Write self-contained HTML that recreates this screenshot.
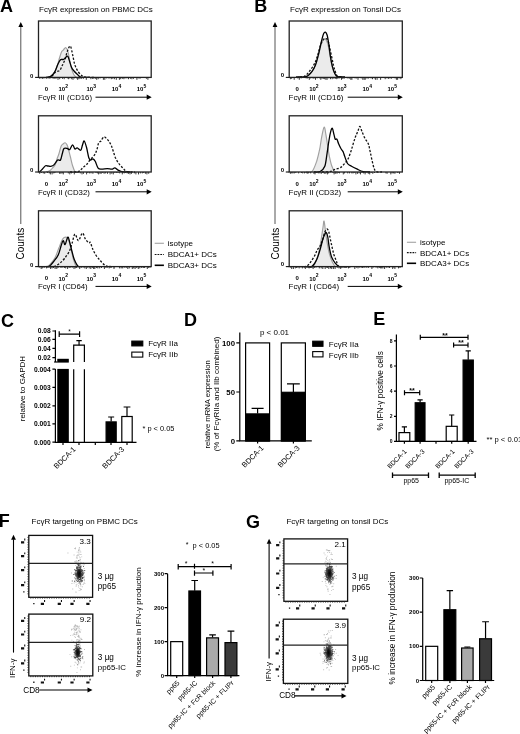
<!DOCTYPE html>
<html><head><meta charset="utf-8"><style>
html,body{margin:0;padding:0;background:#fff;}
body{width:520px;height:734px;overflow:hidden;}
svg{display:block;font-family:"Liberation Sans", sans-serif;filter:grayscale(1);}
</style></head><body>
<svg width="520" height="734" viewBox="0 0 520 734" fill="#000">
<defs><radialGradient id="core"><stop offset="0" stop-color="#000" stop-opacity="0.95"/><stop offset="0.6" stop-color="#000" stop-opacity="0.6"/><stop offset="1" stop-color="#000" stop-opacity="0"/></radialGradient></defs>
<text x="0" y="12.4" font-size="18" font-weight="bold" text-anchor="start" >A</text>
<text x="254.2" y="12.4" font-size="18" font-weight="bold" text-anchor="start" >B</text>
<text x="0.9" y="326.9" font-size="18" font-weight="bold" text-anchor="start" >C</text>
<text x="184.1" y="326.3" font-size="18" font-weight="bold" text-anchor="start" >D</text>
<text x="373.3" y="325.3" font-size="18" font-weight="bold" text-anchor="start" >E</text>
<text x="-1.3" y="527.3" font-size="18" font-weight="bold" text-anchor="start" >F</text>
<text x="246.1" y="527.6" font-size="18" font-weight="bold" text-anchor="start" >G</text>
<text x="39" y="12" font-size="8" font-weight="normal" text-anchor="start" >Fc&#947;R expression on PBMC DCs</text>
<text x="290" y="12" font-size="8" font-weight="normal" text-anchor="start" >Fc&#947;R expression on Tonsil DCs</text>
<text x="31.5" y="524.2" font-size="8" font-weight="normal" text-anchor="start" >Fc&#947;R targeting on PBMC DCs</text>
<text x="286.4" y="524.4" font-size="8" font-weight="normal" text-anchor="start" >Fc&#947;R targeting on tonsil DCs</text>
<path d="M46.0 77.4 C46.7 77.2 48.8 77.1 50.0 76.5 C51.2 75.9 52.1 75.0 53.0 74.0 C53.9 73.0 54.8 72.0 55.5 70.5 C56.2 69.0 56.8 67.1 57.5 65.0 C58.2 62.9 58.8 60.2 59.5 58.0 C60.2 55.8 60.9 53.3 61.5 52.0 C62.1 50.7 62.5 51.0 63.0 50.4 C63.5 49.8 64.0 49.0 64.5 48.5 C65.0 48.0 65.3 47.6 65.7 47.7 C66.1 47.8 66.5 48.0 67.0 49.0 C67.5 50.0 68.0 51.8 68.5 54.0 C69.0 56.2 69.4 59.3 70.0 62.0 C70.6 64.7 71.3 67.8 72.0 70.0 C72.7 72.2 73.2 73.8 74.0 75.0 C74.8 76.2 76.1 77.0 76.5 77.4 L76.5 77.4 L46 77.4 Z" fill="#ebebeb" stroke="none"/>
<path d="M46.0 77.4 C46.7 77.2 48.8 77.1 50.0 76.5 C51.2 75.9 52.1 75.0 53.0 74.0 C53.9 73.0 54.8 72.0 55.5 70.5 C56.2 69.0 56.8 67.1 57.5 65.0 C58.2 62.9 58.8 60.2 59.5 58.0 C60.2 55.8 60.9 53.3 61.5 52.0 C62.1 50.7 62.5 51.0 63.0 50.4 C63.5 49.8 64.0 49.0 64.5 48.5 C65.0 48.0 65.3 47.6 65.7 47.7 C66.1 47.8 66.5 48.0 67.0 49.0 C67.5 50.0 68.0 51.8 68.5 54.0 C69.0 56.2 69.4 59.3 70.0 62.0 C70.6 64.7 71.3 67.8 72.0 70.0 C72.7 72.2 73.2 73.8 74.0 75.0 C74.8 76.2 76.1 77.0 76.5 77.4" fill="none" stroke="#a0a0a0" stroke-width="1.15"/>
<path d="M48.0 77.4 C48.7 77.2 51.0 76.7 52.0 76.0 C53.0 75.3 53.4 73.8 54.2 73.0 C55.0 72.2 56.0 72.0 57.0 71.5 C58.0 71.0 59.1 71.3 60.0 70.2 C60.9 69.1 61.6 66.8 62.5 65.0 C63.4 63.2 64.3 61.5 65.1 59.2 C65.9 56.9 66.5 53.4 67.4 51.2 C68.3 49.0 69.4 45.4 70.3 46.0 C71.2 46.6 71.8 51.4 72.6 54.6 C73.4 57.8 73.9 62.1 74.9 65.0 C75.9 67.9 77.2 70.2 78.4 72.0 C79.7 73.8 81.1 75.1 82.4 76.0 C83.8 76.9 84.4 77.1 86.5 77.3 C88.6 77.5 93.6 77.4 95.0 77.4" fill="none" stroke="#111" stroke-width="1.3" stroke-dasharray="2.2 1.6"/>
<path d="M46.0 77.4 C46.7 77.3 48.8 77.3 50.0 76.8 C51.2 76.3 52.1 75.5 53.0 74.5 C53.9 73.5 54.5 72.5 55.3 70.8 C56.1 69.0 57.1 65.8 58.0 64.0 C58.9 62.2 59.8 60.5 60.5 59.8 C61.2 59.0 61.4 59.6 62.0 59.5 C62.6 59.4 63.2 59.7 64.0 59.2 C64.8 58.7 66.1 56.7 66.8 56.3 C67.5 55.9 67.5 55.9 68.0 56.7 C68.5 57.5 68.9 59.2 69.5 61.0 C70.1 62.8 70.8 65.6 71.5 67.3 C72.2 69.0 73.0 69.8 74.0 71.0 C75.0 72.2 76.1 73.2 77.2 74.2 C78.3 75.2 78.6 76.6 80.7 77.1 C82.8 77.6 88.5 77.4 90.0 77.4" fill="none" stroke="#000" stroke-width="1.3"/>
<rect x="38.5" y="21" width="112.69999999999999" height="56.400000000000006" fill="none" stroke="#222" stroke-width="1.3"/>
<path d="M39.7 77.4v1.4 M41.1 77.4v1.0 M42.5 77.4v1.4 M43.6 77.4v1.0 M44.9 77.4v1.0 M46.7 77.4v1.4 M48.3 77.4v1.0 M49.9 77.4v1.4 M52.3 77.4v1.0 M53.9 77.4v1.4 M55.1 77.4v1.4 M56.5 77.4v1.0 M58.0 77.4v2.4 M59.7 77.4v1.8 M62.5 77.4v1.4 M64.2 77.4v1.8 M67.4 77.4v1.0 M68.6 77.4v1.8 M69.8 77.4v1.0 M71.7 77.4v1.8 M73.0 77.4v2.4 M74.6 77.4v1.0 M76.5 77.4v1.0 M77.6 77.4v2.4 M78.9 77.4v1.8 M80.1 77.4v1.4 M81.6 77.4v1.4 M83.4 77.4v1.4 M86.3 77.4v2.4 M90.9 77.4v1.8 M92.5 77.4v1.4 M93.8 77.4v1.4 M95.4 77.4v1.4 M96.7 77.4v2.4 M98.2 77.4v1.8 M100.1 77.4v1.0 M103.4 77.4v2.4 M104.8 77.4v2.4 M106.4 77.4v1.0 M108.3 77.4v1.0 M109.7 77.4v1.0 M111.3 77.4v1.8 M112.8 77.4v1.4 M114.4 77.4v1.8 M116.3 77.4v2.4 M119.4 77.4v2.4 M120.7 77.4v1.8 M122.4 77.4v1.4 M123.9 77.4v1.8 M125.2 77.4v1.0 M126.9 77.4v1.0 M128.5 77.4v1.8 M130.4 77.4v1.4 M131.9 77.4v1.8 M133.5 77.4v1.4 M136.9 77.4v2.4 M138.3 77.4v1.0 M140.0 77.4v1.4 M146.4 77.4v1.4 M147.9 77.4v2.4" stroke="#222" stroke-width="0.9"/>
<text x="30.0" y="77.80000000000001" font-size="6" font-weight="bold" text-anchor="start" >0</text>
<path d="M35.1 77.4H38.5" stroke="#111" stroke-width="1.1" fill="none" />
<text x="46.5" y="91.2" font-size="6" font-weight="bold" text-anchor="middle" >0</text>
<text x="63.2" y="91.4" font-size="6" font-weight="bold" text-anchor="middle" >10<tspan font-size="5" dy="-3.4">2</tspan></text>
<text x="91.2" y="91.4" font-size="6" font-weight="bold" text-anchor="middle" >10<tspan font-size="5" dy="-3.4">3</tspan></text>
<text x="116.5" y="91.4" font-size="6" font-weight="bold" text-anchor="middle" >10<tspan font-size="5" dy="-3.4">4</tspan></text>
<text x="141.5" y="91.4" font-size="6" font-weight="bold" text-anchor="middle" >10<tspan font-size="5" dy="-3.4">5</tspan></text>
<text x="37.9" y="100.2" font-size="7.8" font-weight="normal" text-anchor="start" >Fc&#947;R III (CD16)</text>
<path d="M95.5 97.2H148.2" stroke="#000" stroke-width="1"/>
<path d="M146.7 94.60000000000001L151.7 97.2L146.7 99.80000000000001Z" fill="#000"/>
<path d="M46.0 172.0 C46.7 171.8 48.8 171.2 50.0 170.5 C51.2 169.8 52.1 168.5 53.0 167.5 C53.9 166.5 54.6 166.0 55.3 164.6 C56.0 163.2 56.4 160.7 57.0 159.0 C57.6 157.3 58.1 156.3 58.8 154.2 C59.5 152.1 60.4 147.9 61.1 146.2 C61.8 144.5 62.3 144.6 63.0 144.0 C63.7 143.4 64.5 142.7 65.1 142.7 C65.7 142.7 66.0 143.2 66.5 144.0 C67.0 144.8 67.4 145.2 68.0 147.3 C68.6 149.4 69.5 153.4 70.3 156.5 C71.1 159.6 71.8 163.3 72.6 165.8 C73.4 168.3 74.2 170.5 74.9 171.5 C75.6 172.5 76.7 171.9 77.0 172.0 L77 172 L46 172 Z" fill="#ebebeb" stroke="none"/>
<path d="M46.0 172.0 C46.7 171.8 48.8 171.2 50.0 170.5 C51.2 169.8 52.1 168.5 53.0 167.5 C53.9 166.5 54.6 166.0 55.3 164.6 C56.0 163.2 56.4 160.7 57.0 159.0 C57.6 157.3 58.1 156.3 58.8 154.2 C59.5 152.1 60.4 147.9 61.1 146.2 C61.8 144.5 62.3 144.6 63.0 144.0 C63.7 143.4 64.5 142.7 65.1 142.7 C65.7 142.7 66.0 143.2 66.5 144.0 C67.0 144.8 67.4 145.2 68.0 147.3 C68.6 149.4 69.5 153.4 70.3 156.5 C71.1 159.6 71.8 163.3 72.6 165.8 C73.4 168.3 74.2 170.5 74.9 171.5 C75.6 172.5 76.7 171.9 77.0 172.0" fill="none" stroke="#a0a0a0" stroke-width="1.15"/>
<path d="M70.0 172.0 C71.4 171.9 76.3 172.2 78.4 171.5 C80.5 170.8 81.2 169.2 82.5 168.0 C83.8 166.8 85.2 165.9 86.5 164.6 C87.8 163.3 88.7 161.6 90.0 160.0 C91.3 158.4 93.4 156.5 94.6 154.8 C95.8 153.1 96.2 151.6 96.9 149.6 C97.6 147.6 98.0 144.1 98.7 142.7 C99.4 141.3 100.2 142.0 101.0 141.0 C101.8 140.0 102.8 137.3 103.8 136.9 C104.8 136.5 105.8 137.9 106.7 138.7 C107.6 139.5 108.2 140.3 109.0 141.5 C109.8 142.7 110.6 144.0 111.3 145.6 C112.0 147.2 112.4 148.8 113.1 150.8 C113.8 152.8 114.5 155.6 115.4 157.7 C116.4 159.8 117.5 161.8 118.8 163.5 C120.0 165.2 121.6 166.8 122.9 168.1 C124.2 169.4 124.9 170.8 126.9 171.5 C128.9 172.2 133.7 171.9 135.0 172.0" fill="none" stroke="#111" stroke-width="1.3" stroke-dasharray="2.2 1.6"/>
<path d="M39.5 172.0 C40.0 171.5 41.5 170.0 42.5 169.0 C43.5 168.0 44.6 166.3 45.5 165.8 C46.4 165.3 47.1 165.9 48.0 166.0 C48.9 166.1 49.7 166.5 50.7 166.3 C51.7 166.1 53.1 165.7 54.2 164.6 C55.4 163.5 56.6 160.8 57.6 160.0 C58.6 159.2 59.7 161.0 60.5 160.0 C61.3 159.0 61.6 155.9 62.2 154.0 C62.8 152.1 63.1 149.4 64.0 148.5 C64.9 147.6 66.5 148.3 67.4 148.5 C68.4 148.7 68.8 150.2 69.7 149.6 C70.6 149.0 71.7 144.9 72.6 144.8 C73.5 144.7 74.1 148.5 74.9 149.0 C75.7 149.5 76.2 147.7 77.2 147.9 C78.2 148.1 79.8 150.7 80.7 150.2 C81.6 149.7 81.9 146.5 82.5 145.0 C83.1 143.5 83.5 140.6 84.2 141.0 C84.9 141.4 85.7 144.5 86.5 147.3 C87.3 150.1 88.1 155.6 88.8 157.7 C89.5 159.8 89.8 159.8 90.5 160.0 C91.2 160.2 92.1 158.6 92.9 158.8 C93.7 159.0 94.3 159.6 95.2 161.2 C96.1 162.8 97.0 166.8 98.1 168.1 C99.1 169.4 100.0 169.1 101.5 169.2 C103.0 169.3 105.6 168.7 107.3 168.7 C109.0 168.7 110.7 169.3 111.9 169.2 C113.2 169.0 113.8 167.7 114.8 167.8 C115.8 167.9 116.5 169.2 117.7 169.8 C118.9 170.4 119.7 171.2 121.7 171.6 C123.8 172.0 128.6 171.9 130.0 172.0" fill="none" stroke="#000" stroke-width="1.3"/>
<rect x="38.5" y="115.8" width="112.69999999999999" height="56.2" fill="none" stroke="#222" stroke-width="1.3"/>
<path d="M39.7 172.0v1.8 M41.4 172.0v1.0 M43.3 172.0v1.4 M44.7 172.0v1.8 M47.6 172.0v1.0 M49.3 172.0v1.4 M50.4 172.0v2.4 M52.1 172.0v2.4 M53.8 172.0v1.4 M54.9 172.0v1.0 M59.6 172.0v1.8 M60.9 172.0v1.8 M62.2 172.0v1.4 M63.3 172.0v2.4 M68.3 172.0v1.4 M69.8 172.0v2.4 M71.5 172.0v1.4 M72.8 172.0v1.0 M74.3 172.0v2.4 M76.0 172.0v1.0 M77.3 172.0v1.0 M78.8 172.0v1.0 M80.3 172.0v1.4 M82.0 172.0v2.4 M83.5 172.0v1.8 M86.6 172.0v2.4 M87.8 172.0v1.0 M89.4 172.0v1.4 M91.0 172.0v1.4 M92.9 172.0v1.8 M96.0 172.0v1.0 M97.4 172.0v1.4 M98.6 172.0v2.4 M100.0 172.0v1.8 M101.2 172.0v1.8 M102.7 172.0v1.0 M104.1 172.0v1.8 M105.6 172.0v1.4 M107.5 172.0v1.8 M110.1 172.0v2.4 M111.8 172.0v1.8 M113.3 172.0v2.4 M114.9 172.0v1.0 M116.7 172.0v1.0 M118.0 172.0v1.0 M119.7 172.0v1.4 M122.3 172.0v2.4 M124.2 172.0v1.4 M125.3 172.0v1.0 M127.2 172.0v1.4 M128.5 172.0v1.8 M130.0 172.0v2.4 M131.5 172.0v1.8 M134.3 172.0v1.4 M135.9 172.0v2.4 M138.5 172.0v2.4 M140.4 172.0v1.4 M142.3 172.0v1.4 M143.7 172.0v1.0 M145.4 172.0v1.8 M146.9 172.0v2.4 M148.7 172.0v1.8" stroke="#222" stroke-width="0.9"/>
<text x="30.0" y="172.4" font-size="6" font-weight="bold" text-anchor="start" >0</text>
<path d="M35.1 172H38.5" stroke="#111" stroke-width="1.1" fill="none" />
<text x="46.5" y="185.8" font-size="6" font-weight="bold" text-anchor="middle" >0</text>
<text x="63.2" y="186.0" font-size="6" font-weight="bold" text-anchor="middle" >10<tspan font-size="5" dy="-3.4">2</tspan></text>
<text x="91.2" y="186.0" font-size="6" font-weight="bold" text-anchor="middle" >10<tspan font-size="5" dy="-3.4">3</tspan></text>
<text x="116.5" y="186.0" font-size="6" font-weight="bold" text-anchor="middle" >10<tspan font-size="5" dy="-3.4">4</tspan></text>
<text x="141.5" y="186.0" font-size="6" font-weight="bold" text-anchor="middle" >10<tspan font-size="5" dy="-3.4">5</tspan></text>
<text x="37.9" y="194.8" font-size="7.8" font-weight="normal" text-anchor="start" >Fc&#947;R II (CD32)</text>
<path d="M95.5 191.8H148.2" stroke="#000" stroke-width="1"/>
<path d="M146.7 189.2L151.7 191.8L146.7 194.4Z" fill="#000"/>
<path d="M45.0 266.6 C45.6 266.5 47.2 266.8 48.4 266.0 C49.6 265.2 50.9 263.4 52.0 262.0 C53.1 260.6 54.1 259.8 55.3 257.3 C56.5 254.8 58.0 250.0 59.3 246.9 C60.5 243.8 61.7 240.4 62.8 238.8 C63.9 237.2 64.8 237.1 65.7 237.1 C66.6 237.1 67.1 237.0 68.0 238.8 C68.9 240.6 70.0 244.8 70.9 248.1 C71.8 251.4 72.3 255.5 73.2 258.5 C74.1 261.5 75.1 264.6 76.1 266.0 C77.1 267.4 78.5 266.5 79.0 266.6 L79 266.6 L45 266.6 Z" fill="#ebebeb" stroke="none"/>
<path d="M45.0 266.6 C45.6 266.5 47.2 266.8 48.4 266.0 C49.6 265.2 50.9 263.4 52.0 262.0 C53.1 260.6 54.1 259.8 55.3 257.3 C56.5 254.8 58.0 250.0 59.3 246.9 C60.5 243.8 61.7 240.4 62.8 238.8 C63.9 237.2 64.8 237.1 65.7 237.1 C66.6 237.1 67.1 237.0 68.0 238.8 C68.9 240.6 70.0 244.8 70.9 248.1 C71.8 251.4 72.3 255.5 73.2 258.5 C74.1 261.5 75.1 264.6 76.1 266.0 C77.1 267.4 78.5 266.5 79.0 266.6" fill="none" stroke="#a0a0a0" stroke-width="1.15"/>
<path d="M50.0 266.6 C50.9 266.5 53.6 266.6 55.3 266.0 C56.9 265.4 58.4 264.4 59.9 263.1 C61.4 261.9 63.0 260.4 64.5 258.5 C66.0 256.6 68.0 254.0 69.2 251.5 C70.5 249.0 71.0 246.4 72.0 243.5 C73.0 240.6 73.8 234.7 74.9 234.2 C76.0 233.7 77.2 240.8 78.4 240.6 C79.7 240.4 81.2 233.4 82.4 233.1 C83.6 232.8 84.2 237.2 85.3 238.8 C86.4 240.4 87.9 242.3 88.8 242.9 C89.7 243.5 89.9 241.4 90.5 242.3 C91.1 243.2 91.4 246.0 92.3 248.1 C93.2 250.2 94.4 252.9 95.8 255.0 C97.2 257.1 98.9 259.1 100.4 260.8 C101.9 262.5 103.7 264.5 105.0 265.4 C106.3 266.3 106.8 266.2 108.5 266.4 C110.2 266.6 113.9 266.6 115.0 266.6" fill="none" stroke="#111" stroke-width="1.3" stroke-dasharray="2.2 1.6"/>
<path d="M46.0 266.6 C46.6 266.5 48.1 267.0 49.5 266.0 C50.9 265.0 52.8 262.6 54.2 260.8 C55.7 259.0 57.1 257.5 58.2 255.0 C59.4 252.5 60.3 248.2 61.1 245.8 C61.9 243.4 62.5 240.8 63.2 240.6 C63.9 240.4 64.3 245.2 65.1 244.6 C65.9 244.0 67.0 237.5 67.8 237.1 C68.6 236.7 69.0 239.9 69.7 242.3 C70.4 244.7 71.2 248.6 72.0 251.5 C72.8 254.4 73.3 257.2 74.3 259.6 C75.3 262.0 76.5 264.8 77.8 266.0 C79.1 267.2 81.3 266.5 82.0 266.6" fill="none" stroke="#000" stroke-width="1.3"/>
<rect x="38.5" y="210.8" width="112.69999999999999" height="55.80000000000001" fill="none" stroke="#222" stroke-width="1.3"/>
<path d="M39.7 266.6v1.0 M41.2 266.6v2.4 M42.3 266.6v1.8 M44.1 266.6v1.4 M46.6 266.6v1.8 M48.0 266.6v1.4 M49.3 266.6v1.0 M50.6 266.6v2.4 M52.1 266.6v1.8 M53.5 266.6v1.4 M55.1 266.6v2.4 M56.8 266.6v2.4 M58.0 266.6v1.4 M61.0 266.6v1.4 M62.8 266.6v1.0 M64.6 266.6v1.4 M65.7 266.6v1.8 M67.6 266.6v2.4 M69.2 266.6v1.4 M70.6 266.6v1.0 M72.3 266.6v1.0 M74.0 266.6v2.4 M75.3 266.6v1.8 M76.6 266.6v1.4 M79.7 266.6v2.4 M81.6 266.6v1.0 M83.2 266.6v1.0 M84.8 266.6v1.8 M86.3 266.6v2.4 M87.5 266.6v1.0 M89.2 266.6v1.8 M90.8 266.6v2.4 M92.3 266.6v1.4 M93.6 266.6v2.4 M94.8 266.6v2.4 M96.6 266.6v1.4 M97.8 266.6v1.8 M99.7 266.6v1.8 M101.5 266.6v1.4 M104.4 266.6v2.4 M106.0 266.6v1.4 M107.5 266.6v1.0 M109.2 266.6v1.8 M111.0 266.6v1.4 M114.0 266.6v2.4 M119.6 266.6v1.8 M121.2 266.6v1.8 M122.7 266.6v1.8 M124.4 266.6v1.0 M126.2 266.6v1.4 M127.8 266.6v2.4 M129.3 266.6v1.8 M132.3 266.6v2.4 M133.7 266.6v1.8 M135.1 266.6v2.4 M136.7 266.6v1.4 M138.3 266.6v2.4 M139.8 266.6v1.8 M141.7 266.6v1.4 M143.3 266.6v1.4 M144.6 266.6v1.4 M147.3 266.6v2.4 M148.7 266.6v1.4 M150.1 266.6v1.0" stroke="#222" stroke-width="0.9"/>
<text x="30.0" y="267.0" font-size="6" font-weight="bold" text-anchor="start" >0</text>
<path d="M35.1 266.6H38.5" stroke="#111" stroke-width="1.1" fill="none" />
<text x="46.5" y="280.40000000000003" font-size="6" font-weight="bold" text-anchor="middle" >0</text>
<text x="63.2" y="280.6" font-size="6" font-weight="bold" text-anchor="middle" >10<tspan font-size="5" dy="-3.4">2</tspan></text>
<text x="91.2" y="280.6" font-size="6" font-weight="bold" text-anchor="middle" >10<tspan font-size="5" dy="-3.4">3</tspan></text>
<text x="116.5" y="280.6" font-size="6" font-weight="bold" text-anchor="middle" >10<tspan font-size="5" dy="-3.4">4</tspan></text>
<text x="141.5" y="280.6" font-size="6" font-weight="bold" text-anchor="middle" >10<tspan font-size="5" dy="-3.4">5</tspan></text>
<text x="37.9" y="289.40000000000003" font-size="7.8" font-weight="normal" text-anchor="start" >Fc&#947;R I (CD64)</text>
<path d="M95.5 286.40000000000003H148.2" stroke="#000" stroke-width="1"/>
<path d="M146.7 283.8L151.7 286.40000000000003L146.7 289.0Z" fill="#000"/>
<path d="M300.0 76.9 C301.0 76.8 304.2 77.2 306.0 76.5 C307.8 75.8 309.5 74.2 311.0 72.5 C312.5 70.8 313.8 68.7 315.0 66.0 C316.2 63.3 317.2 60.0 318.2 56.5 C319.2 53.0 320.1 47.8 321.0 45.0 C321.9 42.2 322.9 40.5 323.5 39.5 C324.1 38.5 324.3 38.8 324.8 39.0 C325.3 39.2 325.9 39.2 326.5 40.5 C327.1 41.8 327.9 44.2 328.5 47.0 C329.1 49.8 329.7 53.8 330.3 57.0 C330.9 60.2 331.3 63.3 332.0 66.0 C332.7 68.7 333.6 71.3 334.5 73.1 C335.4 74.9 336.2 76.0 337.5 76.6 C338.8 77.2 341.2 76.9 342.0 76.9 L342 77.4 L300 77.4 Z" fill="#ebebeb" stroke="none"/>
<path d="M300.0 76.9 C301.0 76.8 304.2 77.2 306.0 76.5 C307.8 75.8 309.5 74.2 311.0 72.5 C312.5 70.8 313.8 68.7 315.0 66.0 C316.2 63.3 317.2 60.0 318.2 56.5 C319.2 53.0 320.1 47.8 321.0 45.0 C321.9 42.2 322.9 40.5 323.5 39.5 C324.1 38.5 324.3 38.8 324.8 39.0 C325.3 39.2 325.9 39.2 326.5 40.5 C327.1 41.8 327.9 44.2 328.5 47.0 C329.1 49.8 329.7 53.8 330.3 57.0 C330.9 60.2 331.3 63.3 332.0 66.0 C332.7 68.7 333.6 71.3 334.5 73.1 C335.4 74.9 336.2 76.0 337.5 76.6 C338.8 77.2 341.2 76.9 342.0 76.9" fill="none" stroke="#a0a0a0" stroke-width="1.15"/>
<path d="M296.0 76.9 C297.3 76.8 301.7 77.5 304.0 76.5 C306.3 75.5 308.0 73.1 309.8 70.8 C311.6 68.5 313.7 65.4 315.0 62.7 C316.3 60.0 316.8 57.9 317.8 54.6 C318.9 51.3 320.1 45.7 321.3 43.0 C322.5 40.3 323.7 39.0 324.8 38.5 C325.9 38.0 326.9 38.9 327.7 40.2 C328.5 41.5 328.7 43.7 329.4 46.5 C330.1 49.3 331.0 53.8 331.7 56.9 C332.4 60.0 332.8 62.6 333.4 65.0 C334.0 67.4 334.5 69.4 335.2 71.3 C335.9 73.2 336.4 75.4 337.5 76.3 C338.6 77.2 341.2 76.8 342.0 76.9" fill="none" stroke="#111" stroke-width="1.3" stroke-dasharray="2.2 1.6"/>
<path d="M298.0 76.9 C299.4 76.9 303.9 77.5 306.3 76.6 C308.7 75.7 310.6 73.2 312.1 71.3 C313.6 69.4 314.4 67.8 315.5 65.0 C316.6 62.2 317.4 58.5 318.4 54.6 C319.4 50.8 320.4 45.4 321.3 41.9 C322.2 38.4 322.9 35.4 323.6 33.8 C324.3 32.2 324.7 31.9 325.3 32.1 C325.9 32.3 326.5 33.0 327.1 35.0 C327.7 37.0 328.2 40.6 328.8 44.2 C329.4 47.9 329.9 53.2 330.5 56.9 C331.1 60.6 331.6 63.5 332.3 66.2 C333.0 68.9 333.7 71.4 334.6 73.1 C335.5 74.8 335.8 76.0 337.5 76.6 C339.2 77.2 343.8 76.9 345.0 76.9" fill="none" stroke="#000" stroke-width="1.3"/>
<rect x="289.2" y="21" width="113.10000000000002" height="56.400000000000006" fill="none" stroke="#222" stroke-width="1.3"/>
<path d="M290.4 77.4v1.8 M291.6 77.4v1.4 M294.2 77.4v2.4 M297.8 77.4v1.0 M299.3 77.4v2.4 M301.2 77.4v1.0 M306.2 77.4v1.0 M307.5 77.4v1.0 M309.3 77.4v2.4 M310.5 77.4v1.0 M312.2 77.4v1.0 M313.9 77.4v1.4 M315.5 77.4v2.4 M317.1 77.4v1.0 M319.7 77.4v1.0 M320.8 77.4v2.4 M322.1 77.4v1.4 M323.6 77.4v1.4 M324.7 77.4v1.8 M325.9 77.4v2.4 M327.1 77.4v2.4 M328.9 77.4v1.0 M330.5 77.4v1.8 M332.2 77.4v1.8 M333.9 77.4v1.4 M335.4 77.4v1.4 M336.7 77.4v1.8 M337.9 77.4v1.4 M339.7 77.4v1.0 M341.5 77.4v2.4 M342.7 77.4v1.4 M344.1 77.4v1.4 M347.3 77.4v1.0 M349.2 77.4v1.4 M350.8 77.4v2.4 M351.9 77.4v2.4 M355.1 77.4v1.0 M356.5 77.4v1.0 M358.0 77.4v2.4 M361.2 77.4v1.0 M362.8 77.4v2.4 M364.1 77.4v2.4 M365.2 77.4v2.4 M366.3 77.4v1.0 M368.1 77.4v1.4 M371.1 77.4v1.0 M372.5 77.4v1.8 M374.3 77.4v1.0 M375.4 77.4v2.4 M377.1 77.4v2.4 M380.6 77.4v2.4 M385.2 77.4v1.8 M387.0 77.4v1.0 M388.5 77.4v1.4 M389.8 77.4v1.0 M391.3 77.4v1.4 M395.1 77.4v1.0 M396.4 77.4v2.4 M397.6 77.4v2.4 M399.2 77.4v1.0 M400.9 77.4v1.8" stroke="#222" stroke-width="0.9"/>
<text x="280.7" y="77.0" font-size="6" font-weight="bold" text-anchor="start" >0</text>
<path d="M285.8 77.4H289.2" stroke="#111" stroke-width="1.1" fill="none" />
<text x="297.2" y="91.2" font-size="6" font-weight="bold" text-anchor="middle" >0</text>
<text x="313.9" y="91.4" font-size="6" font-weight="bold" text-anchor="middle" >10<tspan font-size="5" dy="-3.4">2</tspan></text>
<text x="341.9" y="91.4" font-size="6" font-weight="bold" text-anchor="middle" >10<tspan font-size="5" dy="-3.4">3</tspan></text>
<text x="367.2" y="91.4" font-size="6" font-weight="bold" text-anchor="middle" >10<tspan font-size="5" dy="-3.4">4</tspan></text>
<text x="392.2" y="91.4" font-size="6" font-weight="bold" text-anchor="middle" >10<tspan font-size="5" dy="-3.4">5</tspan></text>
<text x="288.59999999999997" y="100.2" font-size="7.9" font-weight="normal" text-anchor="start" >Fc&#947;R III (CD16)</text>
<path d="M347.7 97.2H399.3" stroke="#000" stroke-width="1"/>
<path d="M397.8 94.60000000000001L402.8 97.2L397.8 99.80000000000001Z" fill="#000"/>
<path d="M306.0 172.0 C307.0 171.9 310.3 173.1 312.1 171.3 C313.9 169.5 315.4 164.8 316.7 161.2 C317.9 157.6 318.7 153.8 319.6 149.6 C320.5 145.4 321.1 139.6 321.9 135.8 C322.7 132.1 323.5 127.3 324.2 127.1 C324.9 126.9 325.3 131.4 325.9 134.6 C326.5 137.8 327.1 142.5 327.7 146.2 C328.3 149.8 328.7 153.2 329.4 156.5 C330.1 159.8 330.8 163.3 331.7 165.8 C332.6 168.3 333.6 170.3 334.6 171.3 C335.7 172.3 337.4 171.9 338.0 172.0 L338 172 L306 172 Z" fill="#ebebeb" stroke="none"/>
<path d="M306.0 172.0 C307.0 171.9 310.3 173.1 312.1 171.3 C313.9 169.5 315.4 164.8 316.7 161.2 C317.9 157.6 318.7 153.8 319.6 149.6 C320.5 145.4 321.1 139.6 321.9 135.8 C322.7 132.1 323.5 127.3 324.2 127.1 C324.9 126.9 325.3 131.4 325.9 134.6 C326.5 137.8 327.1 142.5 327.7 146.2 C328.3 149.8 328.7 153.2 329.4 156.5 C330.1 159.8 330.8 163.3 331.7 165.8 C332.6 168.3 333.6 170.3 334.6 171.3 C335.7 172.3 337.4 171.9 338.0 172.0" fill="none" stroke="#a0a0a0" stroke-width="1.15"/>
<path d="M322.0 172.0 C323.4 171.9 328.3 172.0 330.5 171.5 C332.7 171.0 333.6 169.8 335.2 169.2 C336.8 168.5 338.8 168.5 340.4 167.6 C342.0 166.7 343.3 165.0 344.6 163.5 C345.9 162.0 347.0 161.1 348.1 158.8 C349.2 156.5 350.4 153.1 351.5 149.6 C352.6 146.1 353.9 141.2 355.0 138.1 C356.1 135.0 357.1 133.1 357.9 131.2 C358.7 129.3 359.1 126.5 359.8 126.5 C360.5 126.5 361.1 129.3 361.9 131.2 C362.7 133.1 363.7 136.0 364.8 138.1 C365.9 140.2 367.4 141.7 368.3 143.8 C369.2 145.9 369.4 148.3 370.0 150.8 C370.6 153.3 371.0 155.9 371.7 158.8 C372.4 161.7 373.2 166.0 374.0 168.1 C374.8 170.2 375.0 170.9 376.3 171.6 C377.6 172.2 381.1 171.9 382.0 172.0" fill="none" stroke="#111" stroke-width="1.3" stroke-dasharray="2.2 1.6"/>
<path d="M314.0 172.0 C315.0 171.9 318.4 172.4 320.2 171.5 C322.0 170.6 323.6 169.4 324.8 166.3 C326.0 163.2 326.4 157.2 327.1 153.1 C327.8 149.0 328.2 145.0 328.8 141.5 C329.4 138.0 329.9 134.5 330.5 132.3 C331.1 130.1 331.7 127.9 332.3 128.3 C332.9 128.7 333.5 132.8 334.0 134.6 C334.5 136.4 334.7 138.4 335.2 139.2 C335.7 140.0 336.3 138.4 336.9 139.2 C337.5 140.0 337.9 142.2 338.6 143.8 C339.3 145.4 340.1 147.2 340.9 148.5 C341.7 149.8 342.6 150.7 343.2 151.9 C343.8 153.2 343.9 154.1 344.6 156.0 C345.3 157.9 346.4 161.8 347.5 163.5 C348.6 165.2 349.9 165.4 351.5 166.3 C353.1 167.2 355.4 168.3 357.3 169.2 C359.2 170.1 361.0 171.1 363.1 171.6 C365.2 172.1 368.9 171.9 370.0 172.0" fill="none" stroke="#000" stroke-width="1.3"/>
<rect x="289.2" y="115.8" width="113.10000000000002" height="56.2" fill="none" stroke="#222" stroke-width="1.3"/>
<path d="M290.4 172.0v1.8 M291.7 172.0v1.4 M292.9 172.0v1.4 M294.3 172.0v1.4 M295.8 172.0v1.0 M298.6 172.0v1.4 M301.5 172.0v1.0 M302.7 172.0v1.4 M304.5 172.0v1.4 M306.0 172.0v1.0 M307.2 172.0v1.8 M308.4 172.0v1.4 M310.7 172.0v1.4 M313.9 172.0v1.8 M315.0 172.0v2.4 M316.6 172.0v1.0 M318.3 172.0v1.4 M319.9 172.0v1.4 M321.3 172.0v1.8 M323.0 172.0v1.0 M324.3 172.0v1.8 M325.8 172.0v1.8 M327.4 172.0v2.4 M328.6 172.0v1.4 M333.0 172.0v1.0 M334.1 172.0v2.4 M335.3 172.0v1.8 M337.0 172.0v1.8 M338.3 172.0v1.0 M339.5 172.0v1.4 M343.3 172.0v2.4 M344.5 172.0v1.4 M347.7 172.0v1.4 M349.5 172.0v1.4 M351.8 172.0v1.4 M353.1 172.0v1.4 M354.2 172.0v1.0 M355.9 172.0v2.4 M357.5 172.0v1.8 M359.1 172.0v1.4 M360.5 172.0v2.4 M362.0 172.0v1.0 M363.6 172.0v1.4 M365.1 172.0v2.4 M368.3 172.0v1.8 M369.7 172.0v2.4 M371.2 172.0v1.0 M372.8 172.0v1.8 M374.5 172.0v1.0 M377.9 172.0v1.0 M385.9 172.0v1.4 M387.1 172.0v1.8 M390.8 172.0v2.4 M392.1 172.0v1.4 M393.4 172.0v1.4 M394.9 172.0v1.8 M397.8 172.0v1.0 M399.5 172.0v1.8" stroke="#222" stroke-width="0.9"/>
<text x="280.7" y="171.6" font-size="6" font-weight="bold" text-anchor="start" >0</text>
<path d="M285.8 172H289.2" stroke="#111" stroke-width="1.1" fill="none" />
<text x="297.2" y="185.8" font-size="6" font-weight="bold" text-anchor="middle" >0</text>
<text x="313.9" y="186.0" font-size="6" font-weight="bold" text-anchor="middle" >10<tspan font-size="5" dy="-3.4">2</tspan></text>
<text x="341.9" y="186.0" font-size="6" font-weight="bold" text-anchor="middle" >10<tspan font-size="5" dy="-3.4">3</tspan></text>
<text x="367.2" y="186.0" font-size="6" font-weight="bold" text-anchor="middle" >10<tspan font-size="5" dy="-3.4">4</tspan></text>
<text x="392.2" y="186.0" font-size="6" font-weight="bold" text-anchor="middle" >10<tspan font-size="5" dy="-3.4">5</tspan></text>
<text x="288.59999999999997" y="194.8" font-size="7.9" font-weight="normal" text-anchor="start" >Fc&#947;R II (CD32)</text>
<path d="M347.7 191.8H399.3" stroke="#000" stroke-width="1"/>
<path d="M397.8 189.2L402.8 191.8L397.8 194.4Z" fill="#000"/>
<path d="M308.0 266.6 C308.9 266.6 311.6 268.0 313.2 266.3 C314.8 264.6 316.6 260.2 317.8 256.2 C319.1 252.2 319.8 247.1 320.7 242.3 C321.6 237.5 322.4 230.9 323.0 227.3 C323.6 223.8 323.6 220.6 324.0 221.0 C324.4 221.4 324.8 226.0 325.3 229.6 C325.8 233.2 326.4 238.3 327.1 242.3 C327.8 246.3 328.5 250.5 329.4 253.8 C330.3 257.1 331.3 259.8 332.3 261.9 C333.3 264.0 333.9 265.5 335.2 266.3 C336.5 267.1 339.2 266.6 340.0 266.6 L340 266.6 L308 266.6 Z" fill="#ebebeb" stroke="none"/>
<path d="M308.0 266.6 C308.9 266.6 311.6 268.0 313.2 266.3 C314.8 264.6 316.6 260.2 317.8 256.2 C319.1 252.2 319.8 247.1 320.7 242.3 C321.6 237.5 322.4 230.9 323.0 227.3 C323.6 223.8 323.6 220.6 324.0 221.0 C324.4 221.4 324.8 226.0 325.3 229.6 C325.8 233.2 326.4 238.3 327.1 242.3 C327.8 246.3 328.5 250.5 329.4 253.8 C330.3 257.1 331.3 259.8 332.3 261.9 C333.3 264.0 333.9 265.5 335.2 266.3 C336.5 267.1 339.2 266.6 340.0 266.6" fill="none" stroke="#a0a0a0" stroke-width="1.15"/>
<path d="M300.0 266.6 C301.1 266.6 304.6 267.0 306.3 266.3 C308.0 265.6 309.0 264.2 310.3 262.5 C311.6 260.8 313.2 258.3 314.4 256.2 C315.6 254.1 316.3 251.5 317.3 249.8 C318.3 248.1 319.3 247.4 320.2 245.8 C321.1 244.2 321.7 242.3 322.5 240.0 C323.3 237.7 324.0 233.7 324.8 231.9 C325.6 230.1 326.4 229.0 327.1 229.0 C327.8 229.0 328.2 230.1 328.8 231.9 C329.4 233.7 329.9 237.3 330.5 240.0 C331.1 242.7 331.7 245.6 332.3 248.1 C332.9 250.6 333.3 252.9 334.0 255.0 C334.7 257.1 335.5 258.9 336.3 260.8 C337.1 262.7 337.3 265.3 338.6 266.3 C339.9 267.3 343.1 266.6 344.0 266.6" fill="none" stroke="#111" stroke-width="1.3" stroke-dasharray="2.2 1.6"/>
<path d="M306.0 266.6 C307.0 266.6 310.3 267.5 312.1 266.3 C313.9 265.1 315.4 262.5 316.7 259.6 C318.0 256.8 319.1 252.7 320.2 249.2 C321.2 245.7 322.2 241.3 323.0 238.8 C323.8 236.3 324.3 235.2 324.8 234.2 C325.3 233.1 325.7 232.1 326.2 232.5 C326.7 232.9 327.2 233.9 327.7 236.5 C328.2 239.1 328.7 244.6 329.4 248.1 C330.1 251.6 330.7 254.8 331.7 257.3 C332.7 259.8 334.0 261.6 335.2 263.1 C336.4 264.6 337.1 265.7 338.6 266.3 C340.1 266.9 343.1 266.6 344.0 266.6" fill="none" stroke="#000" stroke-width="1.3"/>
<rect x="289.2" y="210.8" width="113.10000000000002" height="55.80000000000001" fill="none" stroke="#222" stroke-width="1.3"/>
<path d="M290.4 266.6v1.0 M291.7 266.6v2.4 M293.4 266.6v2.4 M295.3 266.6v1.8 M296.6 266.6v1.4 M297.9 266.6v1.0 M299.2 266.6v1.8 M302.4 266.6v1.8 M304.1 266.6v1.4 M305.3 266.6v2.4 M306.7 266.6v1.0 M308.0 266.6v1.0 M309.1 266.6v1.8 M310.4 266.6v1.4 M311.8 266.6v1.4 M313.1 266.6v2.4 M314.3 266.6v1.4 M316.0 266.6v1.0 M319.3 266.6v1.8 M321.2 266.6v1.8 M322.8 266.6v2.4 M325.2 266.6v2.4 M326.5 266.6v1.0 M327.6 266.6v1.4 M328.8 266.6v2.4 M330.5 266.6v1.8 M331.7 266.6v2.4 M333.4 266.6v2.4 M335.1 266.6v2.4 M337.6 266.6v1.0 M339.0 266.6v1.8 M340.7 266.6v2.4 M344.2 266.6v1.4 M345.3 266.6v1.4 M346.7 266.6v1.4 M348.5 266.6v1.8 M349.8 266.6v1.4 M354.8 266.6v2.4 M356.5 266.6v1.0 M358.0 266.6v1.8 M359.7 266.6v1.0 M361.3 266.6v1.0 M362.4 266.6v1.4 M363.8 266.6v1.0 M364.9 266.6v1.0 M366.6 266.6v1.0 M368.3 266.6v1.4 M371.9 266.6v2.4 M373.1 266.6v1.0 M376.1 266.6v1.0 M377.8 266.6v1.8 M379.3 266.6v1.4 M380.6 266.6v1.8 M381.7 266.6v1.8 M382.9 266.6v1.8 M384.6 266.6v2.4 M386.4 266.6v1.0 M388.1 266.6v1.0 M389.5 266.6v1.4 M392.7 266.6v2.4 M393.8 266.6v1.0 M394.9 266.6v2.4 M398.5 266.6v1.8 M400.0 266.6v1.4" stroke="#222" stroke-width="0.9"/>
<text x="280.7" y="266.20000000000005" font-size="6" font-weight="bold" text-anchor="start" >0</text>
<path d="M285.8 266.6H289.2" stroke="#111" stroke-width="1.1" fill="none" />
<text x="297.2" y="280.40000000000003" font-size="6" font-weight="bold" text-anchor="middle" >0</text>
<text x="313.9" y="280.6" font-size="6" font-weight="bold" text-anchor="middle" >10<tspan font-size="5" dy="-3.4">2</tspan></text>
<text x="341.9" y="280.6" font-size="6" font-weight="bold" text-anchor="middle" >10<tspan font-size="5" dy="-3.4">3</tspan></text>
<text x="367.2" y="280.6" font-size="6" font-weight="bold" text-anchor="middle" >10<tspan font-size="5" dy="-3.4">4</tspan></text>
<text x="392.2" y="280.6" font-size="6" font-weight="bold" text-anchor="middle" >10<tspan font-size="5" dy="-3.4">5</tspan></text>
<text x="288.59999999999997" y="289.40000000000003" font-size="7.9" font-weight="normal" text-anchor="start" >Fc&#947;R I (CD64)</text>
<path d="M347.7 286.40000000000003H399.3" stroke="#000" stroke-width="1"/>
<path d="M397.8 283.8L402.8 286.40000000000003L397.8 289.0Z" fill="#000"/>
<path d="M20.8 25.5V224" stroke="#555" stroke-width="1"/>
<path d="M18.400000000000002 27L20.8 22L23.2 27Z" fill="#000"/>
<text transform="translate(24.400000000000002,259.5) rotate(-90)" font-size="10">Counts</text>
<path d="M275 25.5V224" stroke="#555" stroke-width="1"/>
<path d="M272.6 27L275 22L277.4 27Z" fill="#000"/>
<text transform="translate(278.6,259.5) rotate(-90)" font-size="10">Counts</text>
<path d="M154.7 243.3H163.89999999999998" stroke="#aaa" stroke-width="1.2"/>
<path d="M154.7 254.5H163.89999999999998" stroke="#111" stroke-width="1.2" stroke-dasharray="1.8 1"/>
<path d="M154.7 265.3H163.89999999999998" stroke="#000" stroke-width="1.6"/>
<text x="167.7" y="246.20000000000002" font-size="8" font-weight="normal" text-anchor="start" >isotype</text>
<text x="167.7" y="257.4" font-size="8" font-weight="normal" text-anchor="start" >BDCA1+ DCs</text>
<text x="167.7" y="268.2" font-size="8" font-weight="normal" text-anchor="start" >BDCA3+ DCs</text>
<path d="M406.9 242.3H416.09999999999997" stroke="#aaa" stroke-width="1.2"/>
<path d="M406.9 252.7H416.09999999999997" stroke="#111" stroke-width="1.2" stroke-dasharray="1.8 1"/>
<path d="M406.9 263.3H416.09999999999997" stroke="#000" stroke-width="1.6"/>
<text x="420" y="245.20000000000002" font-size="8" font-weight="normal" text-anchor="start" >isotype</text>
<text x="420" y="255.6" font-size="8" font-weight="normal" text-anchor="start" >BDCA1+ DCs</text>
<text x="420" y="266.2" font-size="8" font-weight="normal" text-anchor="start" >BDCA3+ DCs</text>
<rect x="57.90" y="359.40" width="10.30" height="2.60" fill="#000" stroke="#000" stroke-width="1.2"/>
<rect x="57.90" y="369.50" width="10.30" height="72.80" fill="#000" stroke="#000" stroke-width="1.2"/>
<path d="M73.7 362V345.2H84.4V362" stroke="#000" stroke-width="1.2" fill="#fff"/>
<path d="M73.7 369.2V442.3M84.4 369.2V442.3" stroke="#000" stroke-width="1.2"/>
<path d="M79.05 345.2V340.7M76.35 340.7H81.75" stroke="#000" stroke-width="1.2" fill="none" />
<rect x="106.10" y="421.90" width="10.10" height="20.40" fill="#000" stroke="#000" stroke-width="1.2"/>
<path d="M111.15 421.6V417M108.15 417H114.15" stroke="#000" stroke-width="1.2" fill="none" />
<rect x="121.80" y="416.50" width="10.40" height="25.80" fill="#fff" stroke="#000" stroke-width="1.2"/>
<path d="M127 416.5V407M123.6 407H130.4" stroke="#000" stroke-width="1.2" fill="none" />
<path d="M55.4 330.3V362M55.4 369V442.3H136.5" stroke="#000" stroke-width="1.2" fill="none" />
<path d="M54.1 362H57.5" stroke="#000" stroke-width="1.2" fill="none" />
<text x="50.8" y="333.4" font-size="6.7" font-weight="bold" text-anchor="end" >0.08</text>
<text x="50.8" y="341.79999999999995" font-size="6.7" font-weight="bold" text-anchor="end" >0.06</text>
<text x="50.8" y="350.79999999999995" font-size="6.7" font-weight="bold" text-anchor="end" >0.04</text>
<text x="50.8" y="360.09999999999997" font-size="6.7" font-weight="bold" text-anchor="end" >0.02</text>
<text x="50.8" y="371.59999999999997" font-size="6.7" font-weight="bold" text-anchor="end" >0.004</text>
<text x="50.8" y="389.79999999999995" font-size="6.7" font-weight="bold" text-anchor="end" >0.003</text>
<text x="50.8" y="408.2" font-size="6.7" font-weight="bold" text-anchor="end" >0.002</text>
<text x="50.8" y="426.2" font-size="6.7" font-weight="bold" text-anchor="end" >0.001</text>
<text x="50.8" y="444.59999999999997" font-size="6.7" font-weight="bold" text-anchor="end" >0.000</text>
<path d="M52.4 331H55.4M52.4 339.4H55.4M52.4 348.4H55.4M52.4 357.7H55.4M52.4 369.2H55.4M52.4 387.4H55.4M52.4 405.8H55.4M52.4 423.8H55.4M52.4 442.2H55.4" stroke="#000" stroke-width="1.2" fill="none" />
<path d="M63 442.3v2.6M79 442.3v2.6M95.3 442.3v2.6M111 442.3v2.6M127 442.3v2.6" stroke="#000" stroke-width="1.2" fill="none" />
<path d="M59.2 331.3V337M59.2 334.1H79.6M79.6 331.3V337" stroke="#000" stroke-width="1.2" fill="none" />
<text x="69.5" y="333.5" font-size="6.5" font-weight="normal" text-anchor="middle" >*</text>
<text transform="translate(25.2,388.6) rotate(-90)" font-size="8" text-anchor="middle">relative to GAPDH</text>
<rect x="131.80" y="341.10" width="11.00" height="4.80" fill="#000" stroke="#000" stroke-width="1.1"/>
<rect x="131.80" y="352.10" width="11.00" height="5.00" fill="#fff" stroke="#000" stroke-width="1.1"/>
<text x="148.2" y="346.3" font-size="8" font-weight="normal" text-anchor="start" >Fc&#947;R IIa</text>
<text x="148.2" y="357.2" font-size="8" font-weight="normal" text-anchor="start" >Fc&#947;R IIb</text>
<text x="142.5" y="430.6" font-size="7.4" font-weight="normal" text-anchor="start" >* p &lt; 0.05</text>
<text transform="translate(76.3,449.8) rotate(-45)" font-size="7.5" text-anchor="end">BDCA-1</text>
<text transform="translate(124.8,449.8) rotate(-45)" font-size="7.5" text-anchor="end">BDCA-3</text>
<rect x="245.60" y="342.90" width="24.00" height="98.00" fill="#fff" stroke="#000" stroke-width="1.2"/>
<rect x="246.00" y="413.90" width="23.20" height="27.00" fill="#000" stroke="#000" stroke-width="1.2"/>
<path d="M257.6 413.6V408.4M251.60000000000002 408.4H263.6" stroke="#000" stroke-width="1.2" fill="none" />
<rect x="281.30" y="342.90" width="24.10" height="98.00" fill="#fff" stroke="#000" stroke-width="1.2"/>
<rect x="281.70" y="392.30" width="23.30" height="48.60" fill="#000" stroke="#000" stroke-width="1.2"/>
<path d="M293.4 392V383.8M287.0 383.8H299.79999999999995" stroke="#000" stroke-width="1.2" fill="none" />
<path d="M239.8 332.5V440.9H311.8" stroke="#000" stroke-width="1.2" fill="none" />
<text x="235" y="345.7" font-size="7.8" font-weight="bold" text-anchor="end" >100</text>
<text x="235" y="394.8" font-size="7.8" font-weight="bold" text-anchor="end" >50</text>
<text x="235" y="443.7" font-size="7.8" font-weight="bold" text-anchor="end" >0</text>
<path d="M236.3 342.9H239.8M236.3 392.0H239.8M236.3 440.9H239.8" stroke="#000" stroke-width="1.2" fill="none" />
<path d="M257.6 440.9v2.6M293.4 440.9v2.6" stroke="#000" stroke-width="1.2" fill="none" />
<text x="274.5" y="335.3" font-size="8" font-weight="normal" text-anchor="middle" >p &lt; 0.01</text>
<text transform="translate(209.6,404.4) rotate(-90)" font-size="7.7" text-anchor="middle">relative mRNA expression</text>
<text transform="translate(219.2,394) rotate(-90)" font-size="8" text-anchor="middle">(% of Fc&#947;RIIa and IIb combined)</text>
<rect x="312.70" y="341.20" width="10.30" height="5.10" fill="#000" stroke="#000" stroke-width="1.1"/>
<rect x="312.70" y="351.60" width="10.30" height="5.30" fill="#fff" stroke="#000" stroke-width="1.1"/>
<text x="328.8" y="346.6" font-size="8" font-weight="normal" text-anchor="start" >Fc&#947;R IIa</text>
<text x="328.8" y="357.6" font-size="8" font-weight="normal" text-anchor="start" >Fc&#947;R IIb</text>
<text transform="translate(264.3,448.5) rotate(-45)" font-size="7.5" text-anchor="end">BDCA-1</text>
<text transform="translate(300.1,448.5) rotate(-45)" font-size="7.5" text-anchor="end">BDCA-3</text>
<rect x="399.00" y="432.61" width="10.80" height="8.79" fill="#fff" stroke="#000" stroke-width="1.2"/>
<path d="M404.4 432.608V426.95599999999996M401.79999999999995 426.95599999999996H407.0" stroke="#000" stroke-width="1.2" fill="none" />
<rect x="415.20" y="402.76" width="9.80" height="38.64" fill="#000" stroke="#000" stroke-width="1.2"/>
<path d="M420.1 402.464V399.952M417.5 399.952H422.70000000000005" stroke="#000" stroke-width="1.2" fill="none" />
<rect x="446.20" y="426.33" width="11.00" height="15.07" fill="#fff" stroke="#000" stroke-width="1.2"/>
<path d="M451.7 426.328V415.024M449.09999999999997 415.024H454.3" stroke="#000" stroke-width="1.2" fill="none" />
<rect x="463.10" y="360.06" width="10.20" height="81.34" fill="#000" stroke="#000" stroke-width="1.2"/>
<path d="M468.2 359.76V350.96799999999996M465.59999999999997 350.96799999999996H470.8" stroke="#000" stroke-width="1.2" fill="none" />
<path d="M396.4 334.5V441.4H476.5" stroke="#000" stroke-width="1.2" fill="none" />
<text x="392.6" y="342.71999999999997" font-size="5" font-weight="bold" text-anchor="end" >8</text>
<text x="392.6" y="367.84" font-size="5" font-weight="bold" text-anchor="end" >6</text>
<text x="392.6" y="392.96" font-size="5" font-weight="bold" text-anchor="end" >4</text>
<text x="392.6" y="418.08" font-size="5" font-weight="bold" text-anchor="end" >2</text>
<text x="392.6" y="443.2" font-size="5" font-weight="bold" text-anchor="end" >0</text>
<path d="M394 340.9H396.4M394 366.0H396.4M394 391.2H396.4M394 416.3H396.4M394 441.4H396.4" stroke="#000" stroke-width="1.2" fill="none" />
<path d="M404.4 441.4v2.4M420.1 441.4v2.4M436 441.4v2.4M451.7 441.4v2.4M468.2 441.4v2.4" stroke="#000" stroke-width="1.2" fill="none" />
<path d="M404.5 390.2V395.2M404.5 392.7H419.7M419.7 390.2V395.2" stroke="#000" stroke-width="1.2" fill="none" />
<path d="M420.3 334.8V339.8M420.3 337.3H468M468 334.8V339.8" stroke="#000" stroke-width="1.2" fill="none" />
<path d="M453.6 342.6V347.6M453.6 345.1H468M468 342.6V347.6" stroke="#000" stroke-width="1.2" fill="none" />
<text x="412" y="392.6" font-size="7" font-weight="bold" text-anchor="middle" >**</text>
<text x="445" y="338.0" font-size="7" font-weight="bold" text-anchor="middle" >**</text>
<text x="461" y="345.0" font-size="7" font-weight="bold" text-anchor="middle" >**</text>
<text transform="translate(382.7,390.8) rotate(-90)" font-size="8.3" text-anchor="middle">% IFN-&#947; positive cells</text>
<text x="486.5" y="441.8" font-size="7.6" font-weight="normal" text-anchor="start" >** p &lt; 0.01</text>
<text transform="translate(407,452) rotate(-45)" font-size="6.6" text-anchor="end">BDCA-1</text>
<text transform="translate(425,452) rotate(-45)" font-size="6.6" text-anchor="end">BDCA-3</text>
<text transform="translate(455,452) rotate(-45)" font-size="6.6" text-anchor="end">BDCA-1</text>
<text transform="translate(474,452) rotate(-45)" font-size="6.6" text-anchor="end">BDCA-3</text>
<path d="M392.5 472.5V478M392.5 475.2H428.5M428.5 472.5V478" stroke="#000" stroke-width="1.3" fill="none" />
<path d="M439.2 472.5V478M439.2 475.2H475.2M475.2 472.5V478" stroke="#000" stroke-width="1.3" fill="none" />
<text x="411.2" y="482.7" font-size="7.0" font-weight="normal" text-anchor="middle" >pp65</text>
<text x="456.9" y="482.7" font-size="7.0" font-weight="normal" text-anchor="middle" >pp65-IC</text>
<ellipse cx="79.2" cy="573.7" rx="2.6" ry="5.2" fill="url(#core)"/>
<path d="M83.7 568.1h.9v.9h-.9zM81.8 580.0h.9v.9h-.9zM81.3 572.2h.9v.9h-.9zM73.4 574.2h.9v.9h-.9zM81.7 570.7h.9v.9h-.9zM78.2 586.6h.9v.9h-.9zM78.7 569.6h.9v.9h-.9zM75.0 578.4h.9v.9h-.9zM79.3 582.1h.9v.9h-.9zM76.4 573.3h.9v.9h-.9zM80.5 571.6h.9v.9h-.9zM74.0 577.1h.9v.9h-.9zM81.1 576.5h.9v.9h-.9zM80.0 583.5h.9v.9h-.9zM81.4 574.0h.9v.9h-.9zM80.2 573.4h.9v.9h-.9zM81.0 573.5h.9v.9h-.9zM77.9 580.2h.9v.9h-.9zM80.1 571.9h.9v.9h-.9zM79.3 575.8h.9v.9h-.9zM75.4 572.3h.9v.9h-.9zM76.6 583.7h.9v.9h-.9zM73.9 573.9h.9v.9h-.9zM76.1 584.7h.9v.9h-.9zM71.0 572.5h.9v.9h-.9zM76.1 560.6h.9v.9h-.9zM75.5 580.5h.9v.9h-.9zM79.9 578.9h.9v.9h-.9zM77.2 571.7h.9v.9h-.9zM79.4 572.6h.9v.9h-.9zM82.4 562.9h.9v.9h-.9zM80.9 575.1h.9v.9h-.9zM76.3 568.1h.9v.9h-.9zM78.0 568.4h.9v.9h-.9zM80.9 579.7h.9v.9h-.9zM77.6 574.2h.9v.9h-.9zM72.3 588.5h.9v.9h-.9zM81.8 586.3h.9v.9h-.9zM78.1 584.9h.9v.9h-.9zM82.7 584.1h.9v.9h-.9zM78.0 569.9h.9v.9h-.9zM77.3 580.5h.9v.9h-.9zM75.3 573.8h.9v.9h-.9zM78.6 574.6h.9v.9h-.9zM78.6 554.1h.9v.9h-.9zM77.2 579.3h.9v.9h-.9zM74.2 572.4h.9v.9h-.9zM76.5 578.0h.9v.9h-.9zM79.3 588.2h.9v.9h-.9zM75.5 591.5h.9v.9h-.9zM77.3 572.0h.9v.9h-.9zM75.6 591.9h.9v.9h-.9zM83.8 564.3h.9v.9h-.9zM80.8 576.2h.9v.9h-.9zM80.5 571.7h.9v.9h-.9zM76.6 573.9h.9v.9h-.9zM76.8 570.2h.9v.9h-.9zM80.7 565.3h.9v.9h-.9zM76.2 578.6h.9v.9h-.9zM82.6 578.0h.9v.9h-.9zM78.4 575.6h.9v.9h-.9zM80.5 577.4h.9v.9h-.9zM76.2 579.7h.9v.9h-.9zM75.2 562.4h.9v.9h-.9zM79.8 579.0h.9v.9h-.9zM76.5 578.7h.9v.9h-.9zM79.4 560.4h.9v.9h-.9zM75.4 569.7h.9v.9h-.9zM78.8 572.2h.9v.9h-.9zM77.2 580.4h.9v.9h-.9zM80.8 578.0h.9v.9h-.9zM80.5 584.4h.9v.9h-.9zM78.1 581.5h.9v.9h-.9zM81.6 572.0h.9v.9h-.9zM82.4 573.5h.9v.9h-.9zM74.1 573.4h.9v.9h-.9zM80.2 589.6h.9v.9h-.9zM78.0 576.6h.9v.9h-.9zM77.7 574.0h.9v.9h-.9zM75.5 571.1h.9v.9h-.9zM78.1 564.7h.9v.9h-.9zM79.0 575.3h.9v.9h-.9zM78.0 566.7h.9v.9h-.9zM81.1 571.8h.9v.9h-.9zM79.2 576.0h.9v.9h-.9zM80.4 576.1h.9v.9h-.9zM79.2 566.3h.9v.9h-.9zM82.6 564.5h.9v.9h-.9zM77.4 574.9h.9v.9h-.9zM79.9 584.3h.9v.9h-.9zM80.7 582.0h.9v.9h-.9zM78.2 575.2h.9v.9h-.9zM84.4 583.1h.9v.9h-.9zM75.9 575.8h.9v.9h-.9zM74.6 580.6h.9v.9h-.9zM76.5 566.7h.9v.9h-.9zM77.5 573.4h.9v.9h-.9zM79.0 580.9h.9v.9h-.9zM82.4 577.3h.9v.9h-.9zM82.8 562.2h.9v.9h-.9zM80.4 577.1h.9v.9h-.9zM78.4 574.3h.9v.9h-.9zM79.3 582.2h.9v.9h-.9zM78.9 573.2h.9v.9h-.9zM80.6 577.0h.9v.9h-.9zM79.1 579.4h.9v.9h-.9zM77.4 573.1h.9v.9h-.9zM84.0 575.8h.9v.9h-.9zM76.2 577.3h.9v.9h-.9zM78.7 589.9h.9v.9h-.9zM79.8 575.0h.9v.9h-.9zM77.1 565.9h.9v.9h-.9zM76.5 571.6h.9v.9h-.9zM75.5 581.9h.9v.9h-.9zM84.0 577.3h.9v.9h-.9zM80.2 577.5h.9v.9h-.9zM78.6 575.9h.9v.9h-.9zM80.7 570.6h.9v.9h-.9zM77.3 580.1h.9v.9h-.9zM80.4 570.7h.9v.9h-.9zM74.9 560.8h.9v.9h-.9zM73.7 582.6h.9v.9h-.9zM76.4 573.0h.9v.9h-.9zM76.5 576.6h.9v.9h-.9zM76.9 577.5h.9v.9h-.9zM83.4 577.3h.9v.9h-.9zM78.9 579.0h.9v.9h-.9zM79.9 583.6h.9v.9h-.9zM79.6 566.6h.9v.9h-.9zM74.3 577.9h.9v.9h-.9zM79.0 582.0h.9v.9h-.9zM79.4 582.3h.9v.9h-.9zM76.4 568.6h.9v.9h-.9zM77.9 582.9h.9v.9h-.9zM80.3 588.6h.9v.9h-.9zM76.0 560.4h.9v.9h-.9zM82.3 575.2h.9v.9h-.9zM71.5 583.1h.9v.9h-.9zM76.2 573.8h.9v.9h-.9zM77.5 575.1h.9v.9h-.9zM78.8 564.8h.9v.9h-.9zM83.1 582.7h.9v.9h-.9zM78.4 563.4h.9v.9h-.9zM82.9 577.3h.9v.9h-.9zM79.1 576.3h.9v.9h-.9zM77.8 564.8h.9v.9h-.9zM79.1 570.3h.9v.9h-.9zM80.9 589.0h.9v.9h-.9zM84.0 581.7h.9v.9h-.9zM80.3 564.2h.9v.9h-.9zM80.3 585.7h.9v.9h-.9zM80.6 578.3h.9v.9h-.9zM79.9 568.9h.9v.9h-.9zM75.7 585.9h.9v.9h-.9zM75.2 577.5h.9v.9h-.9zM75.2 565.2h.9v.9h-.9zM80.3 573.6h.9v.9h-.9zM75.7 584.6h.9v.9h-.9zM76.8 561.4h.9v.9h-.9zM82.8 577.0h.9v.9h-.9zM67.5 552.6h.9v.9h-.9zM80.3 561.7h.9v.9h-.9zM79.4 550.3h.9v.9h-.9zM78.9 556.4h.9v.9h-.9zM78.5 552.7h.9v.9h-.9zM81.3 556.4h.9v.9h-.9zM74.1 548.2h.9v.9h-.9zM79.5 558.7h.9v.9h-.9zM74.6 562.3h.9v.9h-.9zM76.7 555.6h.9v.9h-.9zM78.2 554.8h.9v.9h-.9zM80.6 562.1h.9v.9h-.9zM76.3 562.2h.9v.9h-.9zM75.0 547.4h.9v.9h-.9zM78.1 561.6h.9v.9h-.9zM74.3 561.2h.9v.9h-.9zM74.6 562.9h.9v.9h-.9zM75.9 557.7h.9v.9h-.9zM79.8 559.4h.9v.9h-.9zM78.3 551.6h.9v.9h-.9zM79.9 558.8h.9v.9h-.9zM76.5 563.4h.9v.9h-.9zM76.5 554.9h.9v.9h-.9zM76.7 551.7h.9v.9h-.9zM80.3 551.5h.9v.9h-.9zM77.0 554.5h.9v.9h-.9zM76.1 556.7h.9v.9h-.9zM73.6 554.6h.9v.9h-.9zM77.1 557.5h.9v.9h-.9zM76.3 560.6h.9v.9h-.9zM78.3 548.8h.9v.9h-.9zM75.1 562.5h.9v.9h-.9zM79.2 548.5h.9v.9h-.9zM75.1 548.3h.9v.9h-.9zM78.1 550.1h.9v.9h-.9zM76.1 562.7h.9v.9h-.9zM78.9 547.1h.9v.9h-.9zM79.7 556.9h.9v.9h-.9zM80.2 554.2h.9v.9h-.9zM80.6 554.1h.9v.9h-.9z" fill="#000" fill-opacity="0.28"/>
<path d="M78.9 575.5h.9v.9h-.9zM81.6 571.0h.9v.9h-.9zM73.4 574.0h.9v.9h-.9zM78.0 572.7h.9v.9h-.9zM78.4 574.7h.9v.9h-.9zM82.1 570.0h.9v.9h-.9zM78.7 569.5h.9v.9h-.9zM77.8 570.5h.9v.9h-.9zM78.2 576.9h.9v.9h-.9zM77.8 572.7h.9v.9h-.9zM81.3 572.7h.9v.9h-.9zM79.7 572.7h.9v.9h-.9zM76.6 570.2h.9v.9h-.9zM78.4 572.7h.9v.9h-.9zM76.9 571.2h.9v.9h-.9zM80.1 570.4h.9v.9h-.9zM77.3 572.2h.9v.9h-.9zM76.2 574.6h.9v.9h-.9zM78.7 575.9h.9v.9h-.9zM77.5 577.8h.9v.9h-.9zM78.1 569.3h.9v.9h-.9zM78.5 579.3h.9v.9h-.9zM79.9 568.9h.9v.9h-.9zM78.0 563.7h.9v.9h-.9zM78.4 568.5h.9v.9h-.9zM78.1 575.5h.9v.9h-.9zM80.1 572.5h.9v.9h-.9zM84.3 570.0h.9v.9h-.9zM80.1 577.8h.9v.9h-.9zM79.1 575.2h.9v.9h-.9zM79.7 575.8h.9v.9h-.9zM78.4 576.1h.9v.9h-.9zM81.8 578.3h.9v.9h-.9zM78.1 580.7h.9v.9h-.9zM78.5 573.4h.9v.9h-.9zM79.9 570.2h.9v.9h-.9zM79.6 583.3h.9v.9h-.9zM78.7 574.0h.9v.9h-.9zM78.7 579.2h.9v.9h-.9zM80.1 573.4h.9v.9h-.9zM80.4 568.8h.9v.9h-.9zM76.6 570.6h.9v.9h-.9zM80.3 568.9h.9v.9h-.9zM76.7 567.3h.9v.9h-.9zM77.3 569.6h.9v.9h-.9zM78.9 575.6h.9v.9h-.9zM80.1 576.0h.9v.9h-.9zM78.6 578.9h.9v.9h-.9zM79.8 571.7h.9v.9h-.9zM76.6 576.6h.9v.9h-.9zM80.7 579.1h.9v.9h-.9zM78.5 573.4h.9v.9h-.9zM80.1 569.9h.9v.9h-.9zM76.9 567.1h.9v.9h-.9zM80.0 571.3h.9v.9h-.9zM82.1 573.8h.9v.9h-.9zM79.5 572.4h.9v.9h-.9zM78.8 575.8h.9v.9h-.9zM77.9 564.6h.9v.9h-.9zM79.3 576.5h.9v.9h-.9zM79.9 570.0h.9v.9h-.9zM79.4 577.2h.9v.9h-.9zM81.9 573.9h.9v.9h-.9zM77.7 575.7h.9v.9h-.9zM78.7 569.3h.9v.9h-.9zM79.9 573.2h.9v.9h-.9zM74.7 572.6h.9v.9h-.9zM78.5 568.4h.9v.9h-.9zM77.9 571.2h.9v.9h-.9zM78.3 574.2h.9v.9h-.9zM82.3 576.9h.9v.9h-.9zM77.0 569.4h.9v.9h-.9zM78.1 572.5h.9v.9h-.9zM78.2 576.7h.9v.9h-.9zM83.3 570.5h.9v.9h-.9zM83.3 573.0h.9v.9h-.9zM77.8 573.8h.9v.9h-.9zM79.4 572.7h.9v.9h-.9zM79.1 571.0h.9v.9h-.9zM77.0 568.8h.9v.9h-.9zM79.2 571.4h.9v.9h-.9zM77.1 567.4h.9v.9h-.9zM79.3 569.7h.9v.9h-.9zM81.8 573.2h.9v.9h-.9zM77.0 568.2h.9v.9h-.9zM75.8 574.5h.9v.9h-.9zM79.1 578.9h.9v.9h-.9zM76.9 563.8h.9v.9h-.9zM77.9 569.6h.9v.9h-.9zM79.9 567.2h.9v.9h-.9zM77.2 577.4h.9v.9h-.9zM77.9 577.0h.9v.9h-.9zM78.3 572.2h.9v.9h-.9zM79.6 572.1h.9v.9h-.9zM78.2 576.7h.9v.9h-.9zM80.7 575.7h.9v.9h-.9zM76.9 581.0h.9v.9h-.9zM77.2 572.7h.9v.9h-.9zM76.6 570.7h.9v.9h-.9zM79.0 574.6h.9v.9h-.9zM78.2 578.0h.9v.9h-.9zM75.8 570.0h.9v.9h-.9zM79.6 576.9h.9v.9h-.9zM79.1 570.9h.9v.9h-.9zM77.0 575.9h.9v.9h-.9zM76.7 569.8h.9v.9h-.9zM79.6 573.1h.9v.9h-.9zM80.6 570.7h.9v.9h-.9zM77.8 571.0h.9v.9h-.9zM77.6 573.4h.9v.9h-.9zM81.7 576.6h.9v.9h-.9zM78.4 571.7h.9v.9h-.9zM80.1 575.8h.9v.9h-.9zM79.7 569.7h.9v.9h-.9zM76.9 571.8h.9v.9h-.9zM81.1 570.2h.9v.9h-.9zM78.8 575.5h.9v.9h-.9zM76.5 569.9h.9v.9h-.9zM79.6 576.0h.9v.9h-.9zM78.1 569.3h.9v.9h-.9zM78.2 577.2h.9v.9h-.9zM71.8 580.5h.9v.9h-.9zM78.3 571.3h.9v.9h-.9zM77.2 577.3h.9v.9h-.9zM79.3 573.4h.9v.9h-.9zM78.3 560.0h.9v.9h-.9zM79.1 571.8h.9v.9h-.9zM75.9 573.9h.9v.9h-.9zM79.5 575.3h.9v.9h-.9zM78.0 574.2h.9v.9h-.9zM80.9 576.3h.9v.9h-.9zM77.2 578.5h.9v.9h-.9zM75.2 570.7h.9v.9h-.9zM78.5 576.5h.9v.9h-.9zM78.8 574.5h.9v.9h-.9zM78.4 576.6h.9v.9h-.9zM77.2 573.4h.9v.9h-.9zM82.3 572.6h.9v.9h-.9zM78.1 575.3h.9v.9h-.9zM77.9 573.4h.9v.9h-.9zM79.8 578.6h.9v.9h-.9zM82.1 580.2h.9v.9h-.9zM83.8 579.6h.9v.9h-.9zM77.0 576.0h.9v.9h-.9zM76.9 575.9h.9v.9h-.9zM78.1 574.3h.9v.9h-.9zM81.9 575.2h.9v.9h-.9zM75.9 574.3h.9v.9h-.9zM80.7 574.9h.9v.9h-.9zM77.2 572.4h.9v.9h-.9zM80.4 577.6h.9v.9h-.9zM77.5 566.5h.9v.9h-.9zM79.2 573.8h.9v.9h-.9zM77.2 569.5h.9v.9h-.9zM80.0 578.0h.9v.9h-.9zM80.0 570.5h.9v.9h-.9zM82.1 578.2h.9v.9h-.9zM82.3 573.9h.9v.9h-.9zM79.8 575.7h.9v.9h-.9zM77.9 566.4h.9v.9h-.9zM79.0 574.2h.9v.9h-.9zM81.0 573.9h.9v.9h-.9zM75.4 569.5h.9v.9h-.9zM76.7 573.4h.9v.9h-.9zM80.2 567.8h.9v.9h-.9zM76.4 575.9h.9v.9h-.9zM78.3 574.1h.9v.9h-.9zM77.8 568.9h.9v.9h-.9zM81.4 573.1h.9v.9h-.9zM80.5 578.4h.9v.9h-.9zM78.1 572.8h.9v.9h-.9zM75.1 574.6h.9v.9h-.9zM77.5 570.6h.9v.9h-.9zM81.4 573.6h.9v.9h-.9zM82.2 572.7h.9v.9h-.9zM79.0 575.1h.9v.9h-.9zM77.4 573.8h.9v.9h-.9zM77.1 571.6h.9v.9h-.9zM78.7 565.2h.9v.9h-.9zM76.9 577.8h.9v.9h-.9zM78.5 571.4h.9v.9h-.9zM78.9 570.3h.9v.9h-.9zM76.9 571.8h.9v.9h-.9zM77.0 566.7h.9v.9h-.9zM79.3 572.7h.9v.9h-.9zM79.4 573.6h.9v.9h-.9zM80.8 569.6h.9v.9h-.9zM77.5 570.9h.9v.9h-.9zM77.9 577.8h.9v.9h-.9zM82.0 571.5h.9v.9h-.9zM77.6 571.3h.9v.9h-.9zM81.5 571.5h.9v.9h-.9zM77.8 573.7h.9v.9h-.9zM79.7 572.9h.9v.9h-.9zM79.8 572.7h.9v.9h-.9zM79.4 569.4h.9v.9h-.9zM79.1 569.4h.9v.9h-.9zM78.4 579.3h.9v.9h-.9zM78.1 575.8h.9v.9h-.9zM77.0 569.7h.9v.9h-.9zM79.6 568.7h.9v.9h-.9zM80.7 569.1h.9v.9h-.9zM79.8 573.5h.9v.9h-.9zM80.0 569.2h.9v.9h-.9zM80.1 572.9h.9v.9h-.9zM77.5 575.6h.9v.9h-.9zM79.0 570.7h.9v.9h-.9zM76.3 575.0h.9v.9h-.9zM78.2 575.9h.9v.9h-.9zM81.0 580.1h.9v.9h-.9zM79.1 567.0h.9v.9h-.9zM78.6 575.2h.9v.9h-.9zM83.1 566.1h.9v.9h-.9zM81.7 581.1h.9v.9h-.9zM79.4 569.0h.9v.9h-.9zM79.1 569.1h.9v.9h-.9zM76.7 572.3h.9v.9h-.9zM77.1 573.6h.9v.9h-.9zM79.5 567.7h.9v.9h-.9zM80.3 573.0h.9v.9h-.9zM80.4 574.6h.9v.9h-.9zM77.8 565.4h.9v.9h-.9zM78.6 573.0h.9v.9h-.9zM77.2 576.3h.9v.9h-.9zM77.2 572.5h.9v.9h-.9zM80.4 574.7h.9v.9h-.9zM77.5 572.9h.9v.9h-.9zM79.6 570.6h.9v.9h-.9zM77.6 573.2h.9v.9h-.9zM79.0 574.8h.9v.9h-.9zM79.3 570.5h.9v.9h-.9zM77.3 571.7h.9v.9h-.9zM79.4 566.3h.9v.9h-.9zM78.9 581.4h.9v.9h-.9zM75.3 573.6h.9v.9h-.9zM77.4 576.2h.9v.9h-.9zM80.1 574.8h.9v.9h-.9zM80.2 573.9h.9v.9h-.9zM78.2 572.3h.9v.9h-.9zM79.8 580.3h.9v.9h-.9zM76.7 571.4h.9v.9h-.9zM79.7 581.3h.9v.9h-.9zM78.7 574.9h.9v.9h-.9zM76.6 574.9h.9v.9h-.9zM78.1 572.1h.9v.9h-.9zM79.7 570.6h.9v.9h-.9zM80.5 573.2h.9v.9h-.9zM79.3 573.5h.9v.9h-.9zM76.9 577.4h.9v.9h-.9zM75.4 573.9h.9v.9h-.9zM81.6 568.9h.9v.9h-.9zM76.3 567.0h.9v.9h-.9zM78.6 571.8h.9v.9h-.9zM78.3 575.7h.9v.9h-.9zM82.1 577.6h.9v.9h-.9zM77.7 573.2h.9v.9h-.9zM79.8 570.5h.9v.9h-.9zM79.1 579.0h.9v.9h-.9zM80.8 580.9h.9v.9h-.9zM79.4 572.8h.9v.9h-.9zM78.4 573.0h.9v.9h-.9zM80.0 571.9h.9v.9h-.9zM75.9 572.8h.9v.9h-.9zM78.9 569.2h.9v.9h-.9zM80.0 575.2h.9v.9h-.9zM80.0 573.4h.9v.9h-.9zM78.8 568.5h.9v.9h-.9zM76.4 575.2h.9v.9h-.9zM77.1 573.9h.9v.9h-.9zM77.5 575.5h.9v.9h-.9zM77.4 576.0h.9v.9h-.9zM80.2 565.8h.9v.9h-.9zM80.3 570.8h.9v.9h-.9zM81.5 569.9h.9v.9h-.9zM80.6 579.0h.9v.9h-.9zM80.9 575.6h.9v.9h-.9zM76.8 577.6h.9v.9h-.9zM79.6 564.4h.9v.9h-.9zM80.3 571.7h.9v.9h-.9zM79.5 573.5h.9v.9h-.9zM80.3 572.8h.9v.9h-.9zM78.9 575.1h.9v.9h-.9zM77.8 575.7h.9v.9h-.9zM78.7 571.0h.9v.9h-.9zM75.3 575.6h.9v.9h-.9zM77.9 574.1h.9v.9h-.9zM77.7 574.6h.9v.9h-.9zM81.0 574.0h.9v.9h-.9zM77.9 579.5h.9v.9h-.9zM78.7 575.0h.9v.9h-.9zM76.9 574.4h.9v.9h-.9zM80.0 576.8h.9v.9h-.9zM76.7 568.7h.9v.9h-.9zM80.8 571.2h.9v.9h-.9zM79.3 571.7h.9v.9h-.9zM78.9 563.7h.9v.9h-.9zM77.6 574.5h.9v.9h-.9zM78.9 575.9h.9v.9h-.9zM77.4 575.7h.9v.9h-.9zM80.5 579.1h.9v.9h-.9zM79.8 573.0h.9v.9h-.9zM77.6 570.3h.9v.9h-.9zM76.7 573.1h.9v.9h-.9zM75.9 575.5h.9v.9h-.9zM80.1 572.3h.9v.9h-.9zM78.5 574.1h.9v.9h-.9zM77.6 574.9h.9v.9h-.9zM80.2 579.6h.9v.9h-.9zM77.5 572.9h.9v.9h-.9zM79.9 577.7h.9v.9h-.9zM80.5 566.7h.9v.9h-.9zM78.4 567.3h.9v.9h-.9zM79.2 575.0h.9v.9h-.9zM77.6 568.9h.9v.9h-.9zM79.3 576.2h.9v.9h-.9zM81.5 573.6h.9v.9h-.9zM75.5 572.5h.9v.9h-.9zM80.6 571.1h.9v.9h-.9zM78.0 575.7h.9v.9h-.9zM76.1 566.6h.9v.9h-.9zM80.3 575.3h.9v.9h-.9zM78.9 571.4h.9v.9h-.9zM78.1 571.0h.9v.9h-.9zM74.1 569.2h.9v.9h-.9zM81.5 574.6h.9v.9h-.9zM75.7 570.1h.9v.9h-.9zM76.3 579.9h.9v.9h-.9zM79.5 573.0h.9v.9h-.9zM78.0 575.4h.9v.9h-.9zM80.7 566.3h.9v.9h-.9zM79.4 566.2h.9v.9h-.9zM75.5 569.8h.9v.9h-.9zM78.6 575.0h.9v.9h-.9zM78.6 569.4h.9v.9h-.9zM81.9 574.3h.9v.9h-.9zM79.7 575.3h.9v.9h-.9zM80.9 575.9h.9v.9h-.9zM79.5 576.0h.9v.9h-.9zM74.7 570.2h.9v.9h-.9zM82.8 574.3h.9v.9h-.9zM78.7 570.5h.9v.9h-.9zM80.1 568.9h.9v.9h-.9zM77.5 573.9h.9v.9h-.9zM77.3 574.4h.9v.9h-.9zM79.7 574.6h.9v.9h-.9zM78.5 577.3h.9v.9h-.9zM76.3 570.2h.9v.9h-.9zM79.5 574.5h.9v.9h-.9zM80.4 570.3h.9v.9h-.9zM79.0 575.9h.9v.9h-.9zM77.8 569.8h.9v.9h-.9zM75.4 578.6h.9v.9h-.9zM81.3 573.9h.9v.9h-.9zM78.0 568.7h.9v.9h-.9zM78.4 572.7h.9v.9h-.9zM79.4 573.1h.9v.9h-.9zM77.6 576.1h.9v.9h-.9zM80.3 568.5h.9v.9h-.9zM80.0 569.4h.9v.9h-.9zM80.3 573.0h.9v.9h-.9zM77.0 576.0h.9v.9h-.9zM78.4 575.1h.9v.9h-.9zM78.1 570.3h.9v.9h-.9zM80.6 569.4h.9v.9h-.9zM79.6 573.4h.9v.9h-.9zM79.4 576.2h.9v.9h-.9zM79.6 578.4h.9v.9h-.9zM79.1 577.0h.9v.9h-.9zM74.0 580.8h.9v.9h-.9zM78.3 573.6h.9v.9h-.9zM83.5 572.1h.9v.9h-.9zM82.2 575.1h.9v.9h-.9zM76.0 567.8h.9v.9h-.9zM77.0 569.8h.9v.9h-.9zM79.0 572.4h.9v.9h-.9zM79.5 574.4h.9v.9h-.9zM80.1 573.5h.9v.9h-.9zM79.6 573.7h.9v.9h-.9zM78.2 575.1h.9v.9h-.9zM82.9 576.7h.9v.9h-.9z" fill="#000" fill-opacity="0.68"/>
<rect x="28.8" y="535.4" width="63.8" height="61.89999999999998" fill="none" stroke="#111" stroke-width="1.3"/>
<path d="M28.8 563.4H92.6" stroke="#222" stroke-width="1.2" fill="none" />
<text x="90.69999999999999" y="543.6999999999999" font-size="8.1" font-weight="normal" text-anchor="end" >3.3</text>
<path d="M21.0 541.2h3.2v2.2h-3.2z M24.2 538.6h1.1v1.8h-1.1z M21.0 555.1h3.2v2.2h-3.2z M24.2 552.5h1.1v1.8h-1.1z M21.0 569.0h3.2v2.2h-3.2z M24.2 566.4h1.1v1.8h-1.1z M21.0 584.0h3.2v2.2h-3.2z M24.2 581.4h1.1v1.8h-1.1z M23.2 591.2h1.3v1.3h-1.3z M33.2 602.9h1.3v1.3h-1.3z M40.8 602.7h3.2v2.2h-3.2z M44.0 600.1h1.1v1.8h-1.1z M57.7 602.7h3.2v2.2h-3.2z M60.9 600.1h1.1v1.8h-1.1z M70.4 602.7h3.2v2.2h-3.2z M73.6 600.1h1.1v1.8h-1.1z M86.3 602.7h3.2v2.2h-3.2z M89.5 600.1h1.1v1.8h-1.1z " fill="#111"/>
<path d="M27.5 537.4h1.3M27.5 539.9h1.3M27.5 542.3h1.3M27.5 544.8h1.3M27.5 547.2h1.3M27.5 549.7h1.3M27.5 552.1h1.3M27.5 554.6h1.3M27.5 557.0h1.3M27.5 559.5h1.3M27.5 561.9h1.3M27.5 564.4h1.3M27.5 566.8h1.3M27.5 569.3h1.3M27.5 571.8h1.3M27.5 574.2h1.3M27.5 576.7h1.3M27.5 579.1h1.3M27.5 581.6h1.3M27.5 584.0h1.3M27.5 586.5h1.3M27.5 588.9h1.3M27.5 591.4h1.3M27.5 593.8h1.3M30.8 597.3v1.3M33.1 597.3v1.3M35.5 597.3v1.3M37.8 597.3v1.3M40.2 597.3v1.3M42.5 597.3v1.3M44.8 597.3v1.3M47.2 597.3v1.3M49.5 597.3v1.3M51.8 597.3v1.3M54.2 597.3v1.3M56.5 597.3v1.3M58.9 597.3v1.3M61.2 597.3v1.3M63.5 597.3v1.3M65.9 597.3v1.3M68.2 597.3v1.3M70.6 597.3v1.3M72.9 597.3v1.3M75.2 597.3v1.3M77.6 597.3v1.3M79.9 597.3v1.3M82.2 597.3v1.3M84.6 597.3v1.3M86.9 597.3v1.3M89.3 597.3v1.3" stroke="#222" stroke-width="0.9" fill="none" />
<ellipse cx="77.7" cy="652.4" rx="2.6" ry="5.2" fill="url(#core)"/>
<path d="M77.1 653.0h.9v.9h-.9zM79.3 639.5h.9v.9h-.9zM76.2 648.2h.9v.9h-.9zM77.6 660.7h.9v.9h-.9zM79.4 650.3h.9v.9h-.9zM74.5 642.4h.9v.9h-.9zM77.8 654.3h.9v.9h-.9zM76.8 649.0h.9v.9h-.9zM75.9 658.9h.9v.9h-.9zM75.4 656.5h.9v.9h-.9zM79.5 648.3h.9v.9h-.9zM81.9 652.6h.9v.9h-.9zM71.3 656.3h.9v.9h-.9zM78.1 636.7h.9v.9h-.9zM78.7 658.5h.9v.9h-.9zM77.5 654.3h.9v.9h-.9zM78.7 650.2h.9v.9h-.9zM75.8 662.7h.9v.9h-.9zM79.0 652.7h.9v.9h-.9zM81.6 657.9h.9v.9h-.9zM79.8 644.8h.9v.9h-.9zM81.6 657.5h.9v.9h-.9zM74.7 656.8h.9v.9h-.9zM81.2 666.6h.9v.9h-.9zM75.4 642.4h.9v.9h-.9zM80.6 666.6h.9v.9h-.9zM78.8 658.4h.9v.9h-.9zM74.9 653.9h.9v.9h-.9zM77.3 646.2h.9v.9h-.9zM75.2 658.4h.9v.9h-.9zM74.9 645.9h.9v.9h-.9zM75.4 657.8h.9v.9h-.9zM80.0 648.3h.9v.9h-.9zM78.4 663.4h.9v.9h-.9zM78.7 654.4h.9v.9h-.9zM74.5 648.8h.9v.9h-.9zM76.0 643.3h.9v.9h-.9zM82.6 658.4h.9v.9h-.9zM78.5 655.3h.9v.9h-.9zM84.0 649.1h.9v.9h-.9zM77.1 653.9h.9v.9h-.9zM77.8 662.6h.9v.9h-.9zM75.1 647.5h.9v.9h-.9zM80.5 653.6h.9v.9h-.9zM80.8 639.1h.9v.9h-.9zM83.4 662.7h.9v.9h-.9zM81.5 639.1h.9v.9h-.9zM77.5 656.7h.9v.9h-.9zM77.2 652.8h.9v.9h-.9zM76.5 672.1h.9v.9h-.9zM77.6 656.1h.9v.9h-.9zM78.9 637.3h.9v.9h-.9zM77.1 660.2h.9v.9h-.9zM80.1 656.0h.9v.9h-.9zM76.8 660.1h.9v.9h-.9zM70.3 665.8h.9v.9h-.9zM77.2 648.5h.9v.9h-.9zM74.4 658.1h.9v.9h-.9zM76.2 656.7h.9v.9h-.9zM77.7 639.6h.9v.9h-.9zM79.1 639.9h.9v.9h-.9zM76.0 650.1h.9v.9h-.9zM69.5 653.9h.9v.9h-.9zM75.8 643.4h.9v.9h-.9zM82.2 653.3h.9v.9h-.9zM76.7 651.4h.9v.9h-.9zM76.8 652.7h.9v.9h-.9zM76.7 647.0h.9v.9h-.9zM73.6 650.2h.9v.9h-.9zM73.7 657.7h.9v.9h-.9zM74.0 656.5h.9v.9h-.9zM73.6 655.7h.9v.9h-.9zM75.0 655.2h.9v.9h-.9zM74.9 652.0h.9v.9h-.9zM79.4 643.0h.9v.9h-.9zM79.0 649.2h.9v.9h-.9zM83.8 661.5h.9v.9h-.9zM76.9 664.2h.9v.9h-.9zM77.8 651.6h.9v.9h-.9zM78.4 644.1h.9v.9h-.9zM81.2 648.5h.9v.9h-.9zM76.9 667.4h.9v.9h-.9zM78.8 649.0h.9v.9h-.9zM74.4 649.1h.9v.9h-.9zM78.3 654.0h.9v.9h-.9zM77.4 647.3h.9v.9h-.9zM77.7 658.1h.9v.9h-.9zM74.7 661.8h.9v.9h-.9zM79.5 662.4h.9v.9h-.9zM80.1 669.3h.9v.9h-.9zM79.6 646.0h.9v.9h-.9zM79.2 650.7h.9v.9h-.9zM73.9 664.7h.9v.9h-.9zM74.9 657.1h.9v.9h-.9zM76.6 647.5h.9v.9h-.9zM74.8 661.8h.9v.9h-.9zM74.3 636.2h.9v.9h-.9zM76.0 629.1h.9v.9h-.9zM75.6 626.1h.9v.9h-.9zM78.8 635.7h.9v.9h-.9zM76.1 633.6h.9v.9h-.9zM74.8 624.2h.9v.9h-.9zM78.2 636.2h.9v.9h-.9zM78.3 635.5h.9v.9h-.9zM72.0 628.7h.9v.9h-.9zM75.7 634.3h.9v.9h-.9zM78.2 634.9h.9v.9h-.9zM76.3 629.7h.9v.9h-.9zM71.2 628.8h.9v.9h-.9zM74.8 629.0h.9v.9h-.9zM73.6 633.1h.9v.9h-.9zM77.4 625.7h.9v.9h-.9zM80.5 629.4h.9v.9h-.9zM80.7 638.4h.9v.9h-.9zM79.6 631.0h.9v.9h-.9zM74.5 624.9h.9v.9h-.9zM76.4 632.0h.9v.9h-.9zM70.0 635.2h.9v.9h-.9zM76.2 639.6h.9v.9h-.9zM78.1 626.5h.9v.9h-.9zM71.4 639.7h.9v.9h-.9zM71.8 634.7h.9v.9h-.9zM77.8 639.8h.9v.9h-.9zM76.9 625.6h.9v.9h-.9zM74.0 631.7h.9v.9h-.9zM77.1 641.2h.9v.9h-.9zM73.7 626.1h.9v.9h-.9zM73.0 634.4h.9v.9h-.9zM79.7 632.1h.9v.9h-.9zM74.8 642.3h.9v.9h-.9zM76.7 631.4h.9v.9h-.9zM77.1 626.6h.9v.9h-.9zM76.3 628.4h.9v.9h-.9zM76.0 627.8h.9v.9h-.9zM71.0 629.5h.9v.9h-.9zM74.9 630.1h.9v.9h-.9zM74.3 625.7h.9v.9h-.9zM78.0 639.6h.9v.9h-.9zM75.9 633.2h.9v.9h-.9zM76.1 639.6h.9v.9h-.9zM76.9 639.2h.9v.9h-.9zM78.9 627.8h.9v.9h-.9zM73.8 634.2h.9v.9h-.9zM80.4 637.8h.9v.9h-.9zM77.0 631.5h.9v.9h-.9zM75.2 625.0h.9v.9h-.9zM74.8 627.6h.9v.9h-.9zM74.8 642.1h.9v.9h-.9zM77.5 633.6h.9v.9h-.9zM79.0 625.7h.9v.9h-.9zM73.7 629.6h.9v.9h-.9zM78.7 631.3h.9v.9h-.9zM79.0 629.7h.9v.9h-.9zM73.9 628.6h.9v.9h-.9zM74.4 634.0h.9v.9h-.9zM78.1 629.7h.9v.9h-.9zM77.4 636.0h.9v.9h-.9zM77.5 641.2h.9v.9h-.9zM74.2 626.7h.9v.9h-.9zM73.2 641.1h.9v.9h-.9zM74.9 637.0h.9v.9h-.9zM78.5 636.2h.9v.9h-.9zM76.3 625.3h.9v.9h-.9zM76.0 641.5h.9v.9h-.9zM76.6 628.1h.9v.9h-.9zM75.7 632.1h.9v.9h-.9zM76.8 641.9h.9v.9h-.9zM77.9 635.3h.9v.9h-.9zM73.1 627.8h.9v.9h-.9zM78.5 627.8h.9v.9h-.9zM78.3 626.4h.9v.9h-.9z" fill="#000" fill-opacity="0.28"/>
<path d="M77.2 651.6h.9v.9h-.9zM77.0 650.2h.9v.9h-.9zM75.6 647.7h.9v.9h-.9zM79.1 656.2h.9v.9h-.9zM76.2 650.6h.9v.9h-.9zM76.7 650.7h.9v.9h-.9zM73.6 655.9h.9v.9h-.9zM76.9 650.1h.9v.9h-.9zM80.6 651.1h.9v.9h-.9zM76.3 653.4h.9v.9h-.9zM77.2 651.5h.9v.9h-.9zM76.8 652.1h.9v.9h-.9zM78.5 650.1h.9v.9h-.9zM78.5 654.0h.9v.9h-.9zM78.3 651.5h.9v.9h-.9zM75.2 653.6h.9v.9h-.9zM76.8 656.5h.9v.9h-.9zM79.2 653.1h.9v.9h-.9zM79.3 651.5h.9v.9h-.9zM77.3 648.8h.9v.9h-.9zM77.2 649.2h.9v.9h-.9zM74.6 644.9h.9v.9h-.9zM74.2 652.5h.9v.9h-.9zM76.6 655.1h.9v.9h-.9zM78.5 653.6h.9v.9h-.9zM75.2 648.2h.9v.9h-.9zM76.5 647.0h.9v.9h-.9zM79.9 654.8h.9v.9h-.9zM79.0 652.6h.9v.9h-.9zM78.3 654.7h.9v.9h-.9zM79.4 651.0h.9v.9h-.9zM79.4 648.7h.9v.9h-.9zM79.5 655.4h.9v.9h-.9zM76.4 656.6h.9v.9h-.9zM75.5 655.6h.9v.9h-.9zM76.5 654.0h.9v.9h-.9zM79.9 658.1h.9v.9h-.9zM78.0 649.7h.9v.9h-.9zM78.1 652.6h.9v.9h-.9zM78.6 644.3h.9v.9h-.9zM79.1 652.0h.9v.9h-.9zM78.5 652.8h.9v.9h-.9zM74.8 654.7h.9v.9h-.9zM79.7 651.9h.9v.9h-.9zM76.6 650.6h.9v.9h-.9zM77.4 653.9h.9v.9h-.9zM76.1 649.2h.9v.9h-.9zM80.7 651.1h.9v.9h-.9zM76.1 652.3h.9v.9h-.9zM77.0 652.7h.9v.9h-.9zM74.8 647.6h.9v.9h-.9zM76.3 651.9h.9v.9h-.9zM77.8 652.5h.9v.9h-.9zM76.4 644.7h.9v.9h-.9zM77.5 652.2h.9v.9h-.9zM78.3 651.4h.9v.9h-.9zM77.0 648.5h.9v.9h-.9zM80.5 652.2h.9v.9h-.9zM76.3 647.8h.9v.9h-.9zM75.2 652.9h.9v.9h-.9zM75.5 651.6h.9v.9h-.9zM74.9 650.9h.9v.9h-.9zM78.3 655.0h.9v.9h-.9zM76.7 651.1h.9v.9h-.9zM78.3 646.6h.9v.9h-.9zM76.0 656.6h.9v.9h-.9zM75.6 650.5h.9v.9h-.9zM75.6 655.9h.9v.9h-.9zM79.6 657.5h.9v.9h-.9zM74.9 651.0h.9v.9h-.9zM78.0 649.9h.9v.9h-.9zM77.1 646.5h.9v.9h-.9zM78.7 655.8h.9v.9h-.9zM73.4 649.1h.9v.9h-.9zM76.5 654.1h.9v.9h-.9zM76.0 653.0h.9v.9h-.9zM78.0 661.4h.9v.9h-.9zM78.2 657.7h.9v.9h-.9zM77.9 658.7h.9v.9h-.9zM76.6 650.1h.9v.9h-.9zM76.0 647.0h.9v.9h-.9zM77.6 655.9h.9v.9h-.9zM74.7 650.6h.9v.9h-.9zM77.0 644.1h.9v.9h-.9zM74.2 649.1h.9v.9h-.9zM76.0 646.2h.9v.9h-.9zM78.7 655.2h.9v.9h-.9zM74.0 651.7h.9v.9h-.9zM79.6 650.4h.9v.9h-.9zM79.3 650.9h.9v.9h-.9zM74.7 653.4h.9v.9h-.9zM72.9 649.4h.9v.9h-.9zM78.0 655.8h.9v.9h-.9zM78.7 653.9h.9v.9h-.9zM76.0 649.5h.9v.9h-.9zM77.8 652.3h.9v.9h-.9zM76.0 643.4h.9v.9h-.9zM76.4 652.5h.9v.9h-.9zM79.8 657.9h.9v.9h-.9zM81.8 657.6h.9v.9h-.9zM77.6 653.7h.9v.9h-.9zM77.1 648.7h.9v.9h-.9zM75.0 657.1h.9v.9h-.9zM78.3 646.5h.9v.9h-.9zM78.6 652.2h.9v.9h-.9zM77.4 656.3h.9v.9h-.9zM75.7 651.5h.9v.9h-.9zM74.1 652.5h.9v.9h-.9zM76.3 654.7h.9v.9h-.9zM76.2 656.3h.9v.9h-.9zM81.1 653.7h.9v.9h-.9zM77.4 655.4h.9v.9h-.9zM77.2 651.3h.9v.9h-.9zM79.2 651.7h.9v.9h-.9zM77.8 648.0h.9v.9h-.9zM78.5 653.2h.9v.9h-.9zM79.7 658.7h.9v.9h-.9zM79.1 648.2h.9v.9h-.9zM78.5 647.9h.9v.9h-.9zM77.3 664.4h.9v.9h-.9zM77.4 649.2h.9v.9h-.9zM76.9 652.3h.9v.9h-.9zM79.3 651.9h.9v.9h-.9zM76.9 652.1h.9v.9h-.9zM77.7 650.8h.9v.9h-.9zM75.5 648.4h.9v.9h-.9zM74.6 647.9h.9v.9h-.9zM79.9 650.9h.9v.9h-.9zM76.1 652.8h.9v.9h-.9zM79.3 650.9h.9v.9h-.9zM75.9 655.4h.9v.9h-.9zM77.0 653.8h.9v.9h-.9zM76.4 650.2h.9v.9h-.9zM78.5 646.7h.9v.9h-.9zM76.3 655.5h.9v.9h-.9zM78.7 650.8h.9v.9h-.9zM76.3 655.6h.9v.9h-.9zM77.5 654.7h.9v.9h-.9zM79.0 648.5h.9v.9h-.9zM75.4 647.7h.9v.9h-.9zM78.4 654.8h.9v.9h-.9zM82.3 656.3h.9v.9h-.9zM75.9 655.7h.9v.9h-.9zM76.5 651.0h.9v.9h-.9zM76.1 644.4h.9v.9h-.9zM77.9 651.1h.9v.9h-.9zM77.9 655.6h.9v.9h-.9zM76.6 651.3h.9v.9h-.9zM78.1 645.8h.9v.9h-.9zM77.5 658.4h.9v.9h-.9zM77.7 653.1h.9v.9h-.9zM78.9 651.2h.9v.9h-.9zM75.1 657.4h.9v.9h-.9zM77.4 659.3h.9v.9h-.9zM77.0 648.8h.9v.9h-.9zM76.6 646.8h.9v.9h-.9zM79.6 647.8h.9v.9h-.9zM73.6 651.8h.9v.9h-.9zM79.4 640.7h.9v.9h-.9zM78.0 654.0h.9v.9h-.9zM79.3 648.5h.9v.9h-.9zM75.8 654.0h.9v.9h-.9zM77.9 643.8h.9v.9h-.9zM76.5 651.0h.9v.9h-.9zM77.0 649.3h.9v.9h-.9zM75.0 649.7h.9v.9h-.9zM78.0 651.7h.9v.9h-.9zM78.8 659.6h.9v.9h-.9zM76.0 650.4h.9v.9h-.9zM76.1 655.2h.9v.9h-.9zM79.9 651.0h.9v.9h-.9zM76.6 644.0h.9v.9h-.9zM78.1 649.3h.9v.9h-.9zM79.0 658.9h.9v.9h-.9zM74.5 650.3h.9v.9h-.9zM76.4 650.1h.9v.9h-.9zM77.8 652.1h.9v.9h-.9zM73.8 654.4h.9v.9h-.9zM76.9 656.2h.9v.9h-.9zM78.4 653.6h.9v.9h-.9zM78.2 652.7h.9v.9h-.9zM78.0 652.4h.9v.9h-.9zM78.2 647.7h.9v.9h-.9zM77.3 651.6h.9v.9h-.9zM77.0 657.1h.9v.9h-.9zM78.8 652.3h.9v.9h-.9zM78.8 652.5h.9v.9h-.9zM77.6 651.4h.9v.9h-.9zM74.9 652.4h.9v.9h-.9zM77.6 649.9h.9v.9h-.9zM79.3 647.1h.9v.9h-.9zM79.4 654.6h.9v.9h-.9zM78.1 641.5h.9v.9h-.9zM73.9 657.0h.9v.9h-.9zM77.6 651.4h.9v.9h-.9zM76.3 656.8h.9v.9h-.9zM76.6 655.4h.9v.9h-.9zM76.5 645.4h.9v.9h-.9zM77.5 652.6h.9v.9h-.9zM77.8 656.3h.9v.9h-.9zM78.2 649.1h.9v.9h-.9zM76.3 654.5h.9v.9h-.9zM75.8 645.5h.9v.9h-.9zM80.1 660.3h.9v.9h-.9zM76.2 650.8h.9v.9h-.9zM74.9 647.5h.9v.9h-.9zM76.9 652.1h.9v.9h-.9zM75.8 647.8h.9v.9h-.9zM74.7 650.3h.9v.9h-.9zM75.8 650.8h.9v.9h-.9zM75.9 651.5h.9v.9h-.9zM77.3 656.6h.9v.9h-.9zM79.9 655.8h.9v.9h-.9zM78.3 651.7h.9v.9h-.9zM76.1 649.4h.9v.9h-.9zM81.4 650.9h.9v.9h-.9zM76.7 650.7h.9v.9h-.9zM76.2 651.3h.9v.9h-.9zM77.5 649.3h.9v.9h-.9zM75.0 648.4h.9v.9h-.9zM80.2 647.8h.9v.9h-.9zM79.2 647.1h.9v.9h-.9zM75.7 651.4h.9v.9h-.9zM76.8 648.2h.9v.9h-.9zM78.1 650.1h.9v.9h-.9zM80.5 647.9h.9v.9h-.9zM76.4 653.6h.9v.9h-.9zM77.4 651.2h.9v.9h-.9z" fill="#000" fill-opacity="0.68"/>
<rect x="28.8" y="614.1" width="64.0" height="61.799999999999955" fill="none" stroke="#111" stroke-width="1.3"/>
<path d="M28.8 642.4H92.8" stroke="#222" stroke-width="1.2" fill="none" />
<text x="90.89999999999999" y="622.4" font-size="8.1" font-weight="normal" text-anchor="end" >9.2</text>
<path d="M21.0 619.7h3.2v2.2h-3.2z M24.2 617.1h1.1v1.8h-1.1z M21.0 633.4h3.2v2.2h-3.2z M24.2 630.8h1.1v1.8h-1.1z M21.0 647.2h3.2v2.2h-3.2z M24.2 644.6h1.1v1.8h-1.1z M21.0 662.2h3.2v2.2h-3.2z M24.2 659.6h1.1v1.8h-1.1z M23.2 669.4h1.3v1.3h-1.3z M33.2 681.6h1.3v1.3h-1.3z M40.8 681.4h3.2v2.2h-3.2z M44.0 678.8h1.1v1.8h-1.1z M57.7 681.4h3.2v2.2h-3.2z M60.9 678.8h1.1v1.8h-1.1z M70.4 681.4h3.2v2.2h-3.2z M73.6 678.8h1.1v1.8h-1.1z M86.3 681.4h3.2v2.2h-3.2z M89.5 678.8h1.1v1.8h-1.1z " fill="#111"/>
<path d="M27.5 616.1h1.3M27.5 618.6h1.3M27.5 621.0h1.3M27.5 623.5h1.3M27.5 625.9h1.3M27.5 628.4h1.3M27.5 630.8h1.3M27.5 633.2h1.3M27.5 635.7h1.3M27.5 638.1h1.3M27.5 640.6h1.3M27.5 643.0h1.3M27.5 645.5h1.3M27.5 648.0h1.3M27.5 650.4h1.3M27.5 652.9h1.3M27.5 655.3h1.3M27.5 657.8h1.3M27.5 660.2h1.3M27.5 662.6h1.3M27.5 665.1h1.3M27.5 667.5h1.3M27.5 670.0h1.3M27.5 672.4h1.3M30.8 675.9v1.3M33.1 675.9v1.3M35.5 675.9v1.3M37.8 675.9v1.3M40.2 675.9v1.3M42.5 675.9v1.3M44.9 675.9v1.3M47.2 675.9v1.3M49.6 675.9v1.3M51.9 675.9v1.3M54.3 675.9v1.3M56.6 675.9v1.3M59.0 675.9v1.3M61.3 675.9v1.3M63.6 675.9v1.3M66.0 675.9v1.3M68.3 675.9v1.3M70.7 675.9v1.3M73.0 675.9v1.3M75.4 675.9v1.3M77.7 675.9v1.3M80.1 675.9v1.3M82.4 675.9v1.3M84.8 675.9v1.3M87.1 675.9v1.3M89.5 675.9v1.3" stroke="#222" stroke-width="0.9" fill="none" />
<ellipse cx="329.4" cy="573.4" rx="2.6" ry="5.2" fill="url(#core)"/>
<path d="M329.9 576.0h.9v.9h-.9zM329.6 579.4h.9v.9h-.9zM326.8 573.7h.9v.9h-.9zM329.8 580.6h.9v.9h-.9zM331.0 575.6h.9v.9h-.9zM329.8 572.3h.9v.9h-.9zM327.3 589.1h.9v.9h-.9zM326.0 563.0h.9v.9h-.9zM328.5 568.1h.9v.9h-.9zM326.2 577.3h.9v.9h-.9zM333.3 583.3h.9v.9h-.9zM326.3 571.8h.9v.9h-.9zM329.5 584.1h.9v.9h-.9zM327.8 571.8h.9v.9h-.9zM328.0 580.4h.9v.9h-.9zM328.3 570.0h.9v.9h-.9zM330.5 578.0h.9v.9h-.9zM328.7 581.7h.9v.9h-.9zM326.2 567.5h.9v.9h-.9zM326.4 574.8h.9v.9h-.9zM327.6 577.4h.9v.9h-.9zM329.4 572.8h.9v.9h-.9zM329.7 573.9h.9v.9h-.9zM325.8 577.5h.9v.9h-.9zM329.5 564.5h.9v.9h-.9zM327.5 570.0h.9v.9h-.9zM326.5 586.3h.9v.9h-.9zM324.9 560.7h.9v.9h-.9zM330.7 574.8h.9v.9h-.9zM331.6 573.6h.9v.9h-.9zM327.5 589.3h.9v.9h-.9zM328.6 580.0h.9v.9h-.9zM326.8 572.9h.9v.9h-.9zM330.6 565.7h.9v.9h-.9zM331.9 578.8h.9v.9h-.9zM330.1 571.3h.9v.9h-.9zM330.9 565.4h.9v.9h-.9zM325.4 577.7h.9v.9h-.9zM329.5 577.1h.9v.9h-.9zM325.3 572.9h.9v.9h-.9zM330.9 582.7h.9v.9h-.9zM329.8 576.2h.9v.9h-.9zM328.2 574.9h.9v.9h-.9zM330.1 572.8h.9v.9h-.9zM328.5 573.4h.9v.9h-.9zM331.0 589.9h.9v.9h-.9zM326.4 569.6h.9v.9h-.9zM331.6 578.0h.9v.9h-.9zM331.2 574.5h.9v.9h-.9zM326.5 580.2h.9v.9h-.9zM332.3 585.7h.9v.9h-.9zM324.9 581.0h.9v.9h-.9zM332.8 576.6h.9v.9h-.9zM328.7 566.3h.9v.9h-.9zM324.6 576.1h.9v.9h-.9zM323.9 575.8h.9v.9h-.9zM334.5 574.9h.9v.9h-.9zM329.3 580.5h.9v.9h-.9zM330.5 571.1h.9v.9h-.9zM330.5 567.0h.9v.9h-.9zM329.5 581.9h.9v.9h-.9zM331.1 567.9h.9v.9h-.9zM329.1 559.2h.9v.9h-.9zM329.6 581.2h.9v.9h-.9zM327.5 579.2h.9v.9h-.9zM329.6 574.2h.9v.9h-.9zM331.8 575.4h.9v.9h-.9zM331.4 582.8h.9v.9h-.9zM330.1 570.1h.9v.9h-.9zM329.2 552.0h.9v.9h-.9zM321.8 581.1h.9v.9h-.9zM327.9 581.9h.9v.9h-.9zM330.0 583.0h.9v.9h-.9zM330.1 568.9h.9v.9h-.9zM328.9 581.4h.9v.9h-.9zM330.8 558.4h.9v.9h-.9zM330.2 575.8h.9v.9h-.9zM327.7 578.4h.9v.9h-.9zM325.6 579.6h.9v.9h-.9zM330.2 575.6h.9v.9h-.9zM328.1 572.7h.9v.9h-.9zM326.2 574.6h.9v.9h-.9zM332.1 566.1h.9v.9h-.9zM325.6 583.2h.9v.9h-.9zM326.9 574.3h.9v.9h-.9zM328.4 567.8h.9v.9h-.9zM325.4 573.0h.9v.9h-.9zM327.8 570.4h.9v.9h-.9zM330.9 579.7h.9v.9h-.9zM327.5 588.3h.9v.9h-.9zM330.3 569.4h.9v.9h-.9zM325.9 574.6h.9v.9h-.9zM328.6 564.2h.9v.9h-.9zM330.1 562.0h.9v.9h-.9zM330.6 570.8h.9v.9h-.9zM335.9 578.2h.9v.9h-.9zM327.1 573.2h.9v.9h-.9zM330.6 576.4h.9v.9h-.9zM329.2 578.4h.9v.9h-.9zM331.1 572.4h.9v.9h-.9zM329.1 565.4h.9v.9h-.9zM332.6 574.5h.9v.9h-.9zM325.1 578.6h.9v.9h-.9zM334.5 577.8h.9v.9h-.9zM331.7 570.5h.9v.9h-.9zM333.2 572.5h.9v.9h-.9zM336.0 575.1h.9v.9h-.9zM328.3 578.2h.9v.9h-.9zM331.4 572.7h.9v.9h-.9zM325.7 575.6h.9v.9h-.9zM327.1 577.1h.9v.9h-.9zM327.7 578.6h.9v.9h-.9zM325.7 566.3h.9v.9h-.9zM329.5 570.9h.9v.9h-.9zM330.3 569.8h.9v.9h-.9zM328.2 561.7h.9v.9h-.9zM331.9 578.8h.9v.9h-.9zM329.0 569.9h.9v.9h-.9zM332.9 578.6h.9v.9h-.9zM331.4 586.3h.9v.9h-.9zM331.3 576.3h.9v.9h-.9zM327.1 570.5h.9v.9h-.9zM328.2 581.8h.9v.9h-.9zM332.5 585.8h.9v.9h-.9zM328.2 581.2h.9v.9h-.9zM330.6 582.8h.9v.9h-.9zM322.8 577.2h.9v.9h-.9zM328.4 575.1h.9v.9h-.9zM327.4 576.8h.9v.9h-.9zM329.8 570.8h.9v.9h-.9zM330.5 569.3h.9v.9h-.9zM325.5 568.4h.9v.9h-.9zM327.6 566.4h.9v.9h-.9zM329.0 572.1h.9v.9h-.9zM326.7 566.1h.9v.9h-.9zM328.5 566.4h.9v.9h-.9zM330.4 574.9h.9v.9h-.9zM331.6 586.1h.9v.9h-.9zM324.0 570.5h.9v.9h-.9zM326.9 580.2h.9v.9h-.9zM328.5 579.8h.9v.9h-.9zM325.4 584.9h.9v.9h-.9zM330.4 576.5h.9v.9h-.9zM331.3 581.7h.9v.9h-.9zM327.6 568.7h.9v.9h-.9zM332.7 589.1h.9v.9h-.9zM327.5 568.9h.9v.9h-.9zM329.5 594.0h.9v.9h-.9zM327.7 590.8h.9v.9h-.9zM332.7 568.2h.9v.9h-.9zM328.3 582.7h.9v.9h-.9zM332.2 567.4h.9v.9h-.9zM332.0 569.0h.9v.9h-.9zM331.1 558.9h.9v.9h-.9zM335.8 565.8h.9v.9h-.9zM324.9 581.3h.9v.9h-.9zM331.0 582.2h.9v.9h-.9zM326.6 570.2h.9v.9h-.9zM326.7 569.0h.9v.9h-.9zM329.7 568.8h.9v.9h-.9zM327.4 560.2h.9v.9h-.9zM326.3 559.2h.9v.9h-.9zM332.0 559.0h.9v.9h-.9zM328.5 550.6h.9v.9h-.9zM325.6 558.3h.9v.9h-.9zM327.2 551.9h.9v.9h-.9zM330.9 552.6h.9v.9h-.9zM324.6 554.4h.9v.9h-.9zM325.8 561.6h.9v.9h-.9zM327.1 549.9h.9v.9h-.9zM326.8 555.7h.9v.9h-.9zM325.9 549.6h.9v.9h-.9zM324.5 562.3h.9v.9h-.9zM326.0 557.3h.9v.9h-.9zM326.6 549.3h.9v.9h-.9zM329.4 550.2h.9v.9h-.9zM323.6 552.6h.9v.9h-.9zM328.7 562.3h.9v.9h-.9zM329.3 560.6h.9v.9h-.9zM328.0 550.1h.9v.9h-.9zM328.5 550.2h.9v.9h-.9zM328.9 550.0h.9v.9h-.9zM330.6 554.1h.9v.9h-.9zM327.0 561.9h.9v.9h-.9zM331.8 553.9h.9v.9h-.9z" fill="#000" fill-opacity="0.28"/>
<path d="M332.1 577.8h.9v.9h-.9zM331.7 574.7h.9v.9h-.9zM327.1 578.7h.9v.9h-.9zM329.2 572.8h.9v.9h-.9zM328.0 574.0h.9v.9h-.9zM331.7 572.9h.9v.9h-.9zM325.9 570.9h.9v.9h-.9zM328.8 574.0h.9v.9h-.9zM326.3 569.0h.9v.9h-.9zM328.8 573.5h.9v.9h-.9zM329.7 575.4h.9v.9h-.9zM329.4 575.8h.9v.9h-.9zM326.6 569.5h.9v.9h-.9zM329.7 578.5h.9v.9h-.9zM326.1 574.4h.9v.9h-.9zM329.8 567.3h.9v.9h-.9zM330.0 577.5h.9v.9h-.9zM326.8 571.5h.9v.9h-.9zM326.3 572.0h.9v.9h-.9zM330.3 570.6h.9v.9h-.9zM328.6 578.0h.9v.9h-.9zM328.1 574.2h.9v.9h-.9zM333.7 572.0h.9v.9h-.9zM329.9 571.7h.9v.9h-.9zM331.5 572.2h.9v.9h-.9zM327.9 574.4h.9v.9h-.9zM329.9 571.2h.9v.9h-.9zM330.5 576.3h.9v.9h-.9zM329.4 571.6h.9v.9h-.9zM328.0 570.6h.9v.9h-.9zM327.2 576.7h.9v.9h-.9zM329.9 579.2h.9v.9h-.9zM329.3 579.1h.9v.9h-.9zM326.5 573.9h.9v.9h-.9zM330.4 571.4h.9v.9h-.9zM331.2 573.1h.9v.9h-.9zM327.8 567.0h.9v.9h-.9zM329.6 573.7h.9v.9h-.9zM325.2 570.3h.9v.9h-.9zM328.3 571.5h.9v.9h-.9zM328.6 575.4h.9v.9h-.9zM329.0 574.8h.9v.9h-.9zM330.2 574.6h.9v.9h-.9zM330.4 569.8h.9v.9h-.9zM329.2 571.9h.9v.9h-.9zM329.6 576.2h.9v.9h-.9zM326.2 572.3h.9v.9h-.9zM327.1 573.0h.9v.9h-.9zM328.1 574.9h.9v.9h-.9zM330.5 574.0h.9v.9h-.9zM329.1 569.7h.9v.9h-.9zM328.1 571.8h.9v.9h-.9zM327.3 573.7h.9v.9h-.9zM328.4 572.2h.9v.9h-.9zM326.2 569.6h.9v.9h-.9zM331.0 573.3h.9v.9h-.9zM329.1 568.8h.9v.9h-.9zM326.4 572.1h.9v.9h-.9zM330.3 575.1h.9v.9h-.9zM329.8 574.6h.9v.9h-.9zM330.1 569.9h.9v.9h-.9zM328.6 573.1h.9v.9h-.9zM331.3 575.7h.9v.9h-.9zM329.4 575.8h.9v.9h-.9zM328.6 562.9h.9v.9h-.9zM327.2 577.9h.9v.9h-.9zM327.5 570.4h.9v.9h-.9zM328.7 574.4h.9v.9h-.9zM329.5 579.0h.9v.9h-.9zM330.0 572.3h.9v.9h-.9zM327.9 572.9h.9v.9h-.9zM328.3 576.3h.9v.9h-.9zM332.0 576.8h.9v.9h-.9zM329.0 571.8h.9v.9h-.9zM328.4 571.3h.9v.9h-.9zM328.6 571.7h.9v.9h-.9zM327.9 573.3h.9v.9h-.9zM332.0 566.4h.9v.9h-.9zM328.7 573.6h.9v.9h-.9zM328.4 572.1h.9v.9h-.9zM329.7 574.4h.9v.9h-.9zM331.9 574.4h.9v.9h-.9zM330.3 578.2h.9v.9h-.9zM330.5 571.1h.9v.9h-.9zM328.4 569.6h.9v.9h-.9zM332.7 573.2h.9v.9h-.9zM328.6 573.5h.9v.9h-.9zM328.0 570.8h.9v.9h-.9zM328.9 574.8h.9v.9h-.9zM326.1 575.3h.9v.9h-.9zM332.8 570.8h.9v.9h-.9zM326.5 573.2h.9v.9h-.9zM329.1 573.7h.9v.9h-.9zM328.7 569.8h.9v.9h-.9zM328.7 577.4h.9v.9h-.9zM330.0 579.7h.9v.9h-.9zM330.3 576.3h.9v.9h-.9zM329.5 568.6h.9v.9h-.9zM330.3 577.7h.9v.9h-.9zM328.6 574.4h.9v.9h-.9zM327.1 573.6h.9v.9h-.9zM327.0 572.7h.9v.9h-.9zM331.7 572.6h.9v.9h-.9zM329.5 566.8h.9v.9h-.9zM329.7 572.1h.9v.9h-.9zM328.0 569.1h.9v.9h-.9zM330.6 577.0h.9v.9h-.9zM328.2 572.9h.9v.9h-.9zM326.7 570.1h.9v.9h-.9zM327.0 578.7h.9v.9h-.9zM330.3 574.9h.9v.9h-.9zM326.2 574.5h.9v.9h-.9zM327.9 569.1h.9v.9h-.9zM327.8 576.4h.9v.9h-.9zM327.4 579.9h.9v.9h-.9zM327.5 578.1h.9v.9h-.9zM329.8 569.0h.9v.9h-.9zM330.5 573.5h.9v.9h-.9zM327.4 566.7h.9v.9h-.9zM331.9 573.7h.9v.9h-.9zM331.6 574.4h.9v.9h-.9zM326.5 576.1h.9v.9h-.9zM328.0 572.0h.9v.9h-.9zM330.4 566.0h.9v.9h-.9zM326.4 575.9h.9v.9h-.9zM327.6 570.4h.9v.9h-.9zM329.8 575.8h.9v.9h-.9zM330.7 576.1h.9v.9h-.9zM329.9 572.1h.9v.9h-.9zM329.1 567.2h.9v.9h-.9zM333.7 575.9h.9v.9h-.9zM332.4 569.3h.9v.9h-.9zM330.2 573.1h.9v.9h-.9zM330.2 570.6h.9v.9h-.9zM327.8 575.8h.9v.9h-.9zM327.9 572.0h.9v.9h-.9zM329.9 574.7h.9v.9h-.9zM330.4 576.0h.9v.9h-.9zM325.7 576.0h.9v.9h-.9zM328.6 569.9h.9v.9h-.9zM332.3 574.2h.9v.9h-.9zM326.7 578.9h.9v.9h-.9zM325.4 572.6h.9v.9h-.9zM329.1 574.0h.9v.9h-.9zM328.3 573.1h.9v.9h-.9zM331.3 569.8h.9v.9h-.9zM326.6 568.4h.9v.9h-.9zM324.5 572.4h.9v.9h-.9zM326.1 572.0h.9v.9h-.9zM328.2 573.1h.9v.9h-.9zM327.7 569.3h.9v.9h-.9zM330.1 571.6h.9v.9h-.9zM330.2 572.1h.9v.9h-.9zM330.4 571.6h.9v.9h-.9zM326.4 579.1h.9v.9h-.9zM327.8 577.9h.9v.9h-.9zM329.9 567.5h.9v.9h-.9zM329.1 580.3h.9v.9h-.9zM329.4 574.4h.9v.9h-.9zM328.4 570.8h.9v.9h-.9zM330.1 570.9h.9v.9h-.9zM328.9 569.9h.9v.9h-.9zM327.8 576.9h.9v.9h-.9zM328.4 581.4h.9v.9h-.9zM329.2 572.7h.9v.9h-.9zM330.1 576.7h.9v.9h-.9zM328.0 575.2h.9v.9h-.9zM329.0 564.4h.9v.9h-.9zM326.4 571.1h.9v.9h-.9zM328.1 573.1h.9v.9h-.9zM328.6 569.5h.9v.9h-.9zM328.5 580.6h.9v.9h-.9zM331.2 570.3h.9v.9h-.9zM327.4 576.4h.9v.9h-.9zM328.7 575.6h.9v.9h-.9zM328.1 575.1h.9v.9h-.9zM327.2 577.2h.9v.9h-.9zM329.6 574.9h.9v.9h-.9zM328.3 573.5h.9v.9h-.9zM328.4 571.4h.9v.9h-.9zM331.0 569.7h.9v.9h-.9zM325.5 564.8h.9v.9h-.9zM326.6 573.6h.9v.9h-.9zM327.4 572.0h.9v.9h-.9zM327.7 576.2h.9v.9h-.9zM327.7 567.0h.9v.9h-.9zM326.2 568.5h.9v.9h-.9zM330.5 571.0h.9v.9h-.9zM330.2 574.1h.9v.9h-.9zM327.1 579.2h.9v.9h-.9zM331.6 570.0h.9v.9h-.9zM327.6 571.2h.9v.9h-.9zM329.6 573.8h.9v.9h-.9zM328.7 572.2h.9v.9h-.9zM331.1 569.3h.9v.9h-.9zM326.1 571.8h.9v.9h-.9zM329.4 568.6h.9v.9h-.9zM330.8 567.8h.9v.9h-.9zM330.9 574.1h.9v.9h-.9zM328.3 572.5h.9v.9h-.9zM329.1 567.5h.9v.9h-.9zM328.5 571.3h.9v.9h-.9zM331.2 566.6h.9v.9h-.9zM332.8 578.5h.9v.9h-.9zM326.7 577.0h.9v.9h-.9zM330.4 576.2h.9v.9h-.9zM326.1 571.0h.9v.9h-.9zM325.1 574.1h.9v.9h-.9zM329.9 572.0h.9v.9h-.9zM326.2 575.7h.9v.9h-.9zM330.2 576.5h.9v.9h-.9zM326.4 574.9h.9v.9h-.9zM327.5 569.7h.9v.9h-.9zM329.0 576.8h.9v.9h-.9zM326.9 576.6h.9v.9h-.9zM331.2 565.9h.9v.9h-.9zM331.1 572.4h.9v.9h-.9zM330.2 569.6h.9v.9h-.9zM325.4 573.3h.9v.9h-.9zM329.1 570.6h.9v.9h-.9zM328.4 570.7h.9v.9h-.9zM329.5 572.2h.9v.9h-.9zM326.0 570.0h.9v.9h-.9zM325.9 574.7h.9v.9h-.9zM329.9 574.6h.9v.9h-.9zM328.0 575.1h.9v.9h-.9zM330.0 582.3h.9v.9h-.9zM330.0 576.2h.9v.9h-.9zM328.3 571.8h.9v.9h-.9zM331.5 575.5h.9v.9h-.9zM327.8 577.5h.9v.9h-.9zM327.3 573.7h.9v.9h-.9zM326.6 568.1h.9v.9h-.9zM328.9 575.5h.9v.9h-.9zM328.1 570.0h.9v.9h-.9zM330.8 574.1h.9v.9h-.9zM328.5 577.3h.9v.9h-.9zM329.3 579.4h.9v.9h-.9zM332.0 573.8h.9v.9h-.9zM330.9 573.3h.9v.9h-.9zM327.1 563.1h.9v.9h-.9zM328.9 568.9h.9v.9h-.9zM327.7 577.4h.9v.9h-.9zM329.4 568.9h.9v.9h-.9zM329.4 570.7h.9v.9h-.9zM332.9 577.3h.9v.9h-.9zM328.5 573.6h.9v.9h-.9zM331.2 574.3h.9v.9h-.9zM327.7 577.7h.9v.9h-.9zM328.6 572.4h.9v.9h-.9zM327.8 576.1h.9v.9h-.9zM331.8 572.6h.9v.9h-.9zM330.7 575.8h.9v.9h-.9zM328.6 574.5h.9v.9h-.9zM329.5 566.1h.9v.9h-.9zM331.8 568.5h.9v.9h-.9zM330.4 573.9h.9v.9h-.9zM328.6 569.9h.9v.9h-.9zM330.6 571.5h.9v.9h-.9zM327.9 570.0h.9v.9h-.9zM327.2 564.4h.9v.9h-.9zM330.9 576.6h.9v.9h-.9zM327.3 574.8h.9v.9h-.9zM331.3 574.7h.9v.9h-.9zM329.7 573.1h.9v.9h-.9zM328.3 573.5h.9v.9h-.9zM328.8 574.1h.9v.9h-.9zM326.0 572.7h.9v.9h-.9zM326.0 574.8h.9v.9h-.9zM331.8 574.6h.9v.9h-.9zM327.8 573.2h.9v.9h-.9zM328.6 572.7h.9v.9h-.9zM326.6 576.3h.9v.9h-.9zM329.2 567.1h.9v.9h-.9zM330.6 569.2h.9v.9h-.9zM326.7 568.5h.9v.9h-.9zM328.5 569.8h.9v.9h-.9zM327.4 571.6h.9v.9h-.9zM330.5 577.7h.9v.9h-.9zM330.8 571.6h.9v.9h-.9zM327.3 578.6h.9v.9h-.9zM329.5 573.5h.9v.9h-.9zM327.4 575.2h.9v.9h-.9zM327.7 576.1h.9v.9h-.9zM327.7 575.8h.9v.9h-.9zM329.8 569.8h.9v.9h-.9zM332.4 579.9h.9v.9h-.9zM328.5 570.3h.9v.9h-.9zM328.8 570.4h.9v.9h-.9zM330.1 568.3h.9v.9h-.9zM325.6 574.0h.9v.9h-.9zM330.3 574.7h.9v.9h-.9zM327.1 573.9h.9v.9h-.9zM326.2 577.1h.9v.9h-.9zM332.2 571.2h.9v.9h-.9zM329.4 577.4h.9v.9h-.9zM330.8 572.2h.9v.9h-.9zM328.9 576.7h.9v.9h-.9zM324.7 578.4h.9v.9h-.9zM330.6 574.3h.9v.9h-.9zM331.2 579.1h.9v.9h-.9zM327.2 570.6h.9v.9h-.9zM330.9 567.0h.9v.9h-.9zM329.7 573.4h.9v.9h-.9zM328.9 574.0h.9v.9h-.9zM330.6 574.2h.9v.9h-.9zM328.5 579.2h.9v.9h-.9zM326.1 568.6h.9v.9h-.9zM329.8 577.8h.9v.9h-.9zM327.7 578.2h.9v.9h-.9zM327.5 567.8h.9v.9h-.9zM327.8 574.4h.9v.9h-.9zM328.2 568.9h.9v.9h-.9zM326.2 578.7h.9v.9h-.9zM328.8 565.7h.9v.9h-.9zM329.7 571.6h.9v.9h-.9zM328.5 569.5h.9v.9h-.9zM329.0 571.0h.9v.9h-.9zM326.0 573.3h.9v.9h-.9zM328.9 567.6h.9v.9h-.9zM327.8 574.0h.9v.9h-.9zM331.8 571.4h.9v.9h-.9zM328.0 575.0h.9v.9h-.9zM328.4 577.0h.9v.9h-.9zM329.0 566.0h.9v.9h-.9zM331.4 579.0h.9v.9h-.9zM328.2 577.4h.9v.9h-.9zM329.6 569.7h.9v.9h-.9zM328.1 576.9h.9v.9h-.9zM329.5 564.1h.9v.9h-.9zM329.6 573.4h.9v.9h-.9zM325.4 574.6h.9v.9h-.9zM329.6 568.1h.9v.9h-.9zM328.6 571.1h.9v.9h-.9zM330.9 576.4h.9v.9h-.9zM328.5 574.0h.9v.9h-.9zM328.5 578.1h.9v.9h-.9zM329.5 577.0h.9v.9h-.9zM330.2 568.2h.9v.9h-.9zM327.0 567.5h.9v.9h-.9zM328.4 570.4h.9v.9h-.9zM326.9 567.8h.9v.9h-.9zM329.7 570.7h.9v.9h-.9zM328.6 574.6h.9v.9h-.9zM330.9 574.3h.9v.9h-.9zM328.0 571.5h.9v.9h-.9zM326.2 568.1h.9v.9h-.9zM324.6 571.8h.9v.9h-.9zM328.5 567.6h.9v.9h-.9zM328.7 575.3h.9v.9h-.9zM329.7 580.6h.9v.9h-.9zM325.6 575.4h.9v.9h-.9zM329.7 571.9h.9v.9h-.9zM330.4 568.3h.9v.9h-.9zM329.1 571.8h.9v.9h-.9zM330.0 573.9h.9v.9h-.9zM329.2 570.5h.9v.9h-.9zM326.3 573.8h.9v.9h-.9zM330.7 581.1h.9v.9h-.9zM328.6 570.8h.9v.9h-.9zM328.5 573.3h.9v.9h-.9zM326.1 573.7h.9v.9h-.9zM329.2 578.4h.9v.9h-.9zM330.0 572.1h.9v.9h-.9zM328.2 578.5h.9v.9h-.9zM327.3 577.7h.9v.9h-.9zM329.8 572.3h.9v.9h-.9zM330.3 577.2h.9v.9h-.9zM331.3 573.5h.9v.9h-.9zM328.7 571.4h.9v.9h-.9zM329.7 577.5h.9v.9h-.9zM332.6 570.7h.9v.9h-.9zM327.4 568.7h.9v.9h-.9zM327.0 573.0h.9v.9h-.9zM327.4 573.2h.9v.9h-.9zM328.7 569.8h.9v.9h-.9zM328.6 569.7h.9v.9h-.9zM328.6 573.1h.9v.9h-.9zM328.9 573.3h.9v.9h-.9zM327.7 572.2h.9v.9h-.9z" fill="#000" fill-opacity="0.68"/>
<rect x="283.9" y="538.9" width="63.700000000000045" height="62.39999999999998" fill="none" stroke="#111" stroke-width="1.3"/>
<path d="M283.9 563.8H347.6" stroke="#222" stroke-width="1.2" fill="none" />
<text x="345.70000000000005" y="547.1999999999999" font-size="8.1" font-weight="normal" text-anchor="end" >2.1</text>
<path d="M276.1 544.0h3.2v2.2h-3.2z M279.3 541.4h1.1v1.8h-1.1z M276.1 557.2h3.2v2.2h-3.2z M279.3 554.6h1.1v1.8h-1.1z M276.1 572.4h3.2v2.2h-3.2z M279.3 569.8h1.1v1.8h-1.1z M276.1 586.7h3.2v2.2h-3.2z M279.3 584.1h1.1v1.8h-1.1z M278.3 593.9h1.3v1.3h-1.3z M288.9 607.4h1.3v1.3h-1.3z M296.0 607.2h3.2v2.2h-3.2z M299.2 604.6h1.1v1.8h-1.1z M311.5 607.2h3.2v2.2h-3.2z M314.7 604.6h1.1v1.8h-1.1z M326.4 607.2h3.2v2.2h-3.2z M329.6 604.6h1.1v1.8h-1.1z M342.0 607.2h3.2v2.2h-3.2z M345.2 604.6h1.1v1.8h-1.1z " fill="#111"/>
<path d="M282.6 540.9h1.3M282.6 543.4h1.3M282.6 545.9h1.3M282.6 548.3h1.3M282.6 550.8h1.3M282.6 553.3h1.3M282.6 555.8h1.3M282.6 558.2h1.3M282.6 560.7h1.3M282.6 563.2h1.3M282.6 565.6h1.3M282.6 568.1h1.3M282.6 570.6h1.3M282.6 573.1h1.3M282.6 575.5h1.3M282.6 578.0h1.3M282.6 580.5h1.3M282.6 583.0h1.3M282.6 585.4h1.3M282.6 587.9h1.3M282.6 590.4h1.3M282.6 592.9h1.3M282.6 595.3h1.3M282.6 597.8h1.3M285.9 601.3v1.3M288.2 601.3v1.3M290.6 601.3v1.3M292.9 601.3v1.3M295.2 601.3v1.3M297.6 601.3v1.3M299.9 601.3v1.3M302.2 601.3v1.3M304.6 601.3v1.3M306.9 601.3v1.3M309.2 601.3v1.3M311.6 601.3v1.3M313.9 601.3v1.3M316.2 601.3v1.3M318.6 601.3v1.3M320.9 601.3v1.3M323.3 601.3v1.3M325.6 601.3v1.3M327.9 601.3v1.3M330.3 601.3v1.3M332.6 601.3v1.3M334.9 601.3v1.3M337.3 601.3v1.3M339.6 601.3v1.3M341.9 601.3v1.3M344.3 601.3v1.3" stroke="#222" stroke-width="0.9" fill="none" />
<ellipse cx="328.6" cy="652.7" rx="2.6" ry="5.2" fill="url(#core)"/>
<path d="M330.0 646.3h.9v.9h-.9zM325.5 657.7h.9v.9h-.9zM335.0 659.2h.9v.9h-.9zM329.0 654.2h.9v.9h-.9zM330.1 653.9h.9v.9h-.9zM334.0 658.0h.9v.9h-.9zM328.8 659.4h.9v.9h-.9zM328.9 642.7h.9v.9h-.9zM327.6 656.7h.9v.9h-.9zM328.2 651.6h.9v.9h-.9zM328.7 646.8h.9v.9h-.9zM327.6 650.3h.9v.9h-.9zM322.7 661.0h.9v.9h-.9zM330.7 659.5h.9v.9h-.9zM331.3 650.3h.9v.9h-.9zM320.3 654.6h.9v.9h-.9zM327.8 642.8h.9v.9h-.9zM330.1 643.1h.9v.9h-.9zM328.0 656.2h.9v.9h-.9zM331.2 656.8h.9v.9h-.9zM328.2 649.7h.9v.9h-.9zM326.7 657.2h.9v.9h-.9zM328.7 659.5h.9v.9h-.9zM326.4 655.8h.9v.9h-.9zM324.2 656.5h.9v.9h-.9zM327.6 651.6h.9v.9h-.9zM325.5 659.0h.9v.9h-.9zM327.6 660.8h.9v.9h-.9zM328.2 664.6h.9v.9h-.9zM327.9 656.0h.9v.9h-.9zM323.9 661.1h.9v.9h-.9zM329.2 655.5h.9v.9h-.9zM329.8 655.9h.9v.9h-.9zM327.9 664.1h.9v.9h-.9zM325.3 661.4h.9v.9h-.9zM328.2 657.5h.9v.9h-.9zM331.2 650.2h.9v.9h-.9zM327.3 655.1h.9v.9h-.9zM323.6 646.4h.9v.9h-.9zM328.9 656.2h.9v.9h-.9zM324.7 658.2h.9v.9h-.9zM329.8 655.0h.9v.9h-.9zM332.3 653.3h.9v.9h-.9zM329.3 642.3h.9v.9h-.9zM332.4 660.0h.9v.9h-.9zM328.3 659.2h.9v.9h-.9zM330.1 652.5h.9v.9h-.9zM330.5 665.9h.9v.9h-.9zM324.1 661.6h.9v.9h-.9zM329.7 660.7h.9v.9h-.9zM328.8 657.7h.9v.9h-.9zM325.5 652.3h.9v.9h-.9zM328.7 669.5h.9v.9h-.9zM327.1 649.7h.9v.9h-.9zM331.7 662.8h.9v.9h-.9zM329.7 657.0h.9v.9h-.9zM331.2 666.0h.9v.9h-.9zM330.1 657.3h.9v.9h-.9zM324.0 647.0h.9v.9h-.9zM328.2 645.3h.9v.9h-.9zM330.8 651.3h.9v.9h-.9zM332.6 650.8h.9v.9h-.9zM329.9 647.0h.9v.9h-.9zM327.5 658.7h.9v.9h-.9zM328.0 650.7h.9v.9h-.9zM326.2 661.4h.9v.9h-.9zM331.8 653.7h.9v.9h-.9zM327.5 651.2h.9v.9h-.9zM330.9 655.3h.9v.9h-.9zM327.6 653.1h.9v.9h-.9zM327.8 657.7h.9v.9h-.9zM326.2 648.8h.9v.9h-.9zM326.1 659.9h.9v.9h-.9zM326.7 640.7h.9v.9h-.9zM325.1 652.0h.9v.9h-.9zM326.9 667.0h.9v.9h-.9zM330.2 655.4h.9v.9h-.9zM326.5 663.9h.9v.9h-.9zM327.5 640.5h.9v.9h-.9zM327.5 646.8h.9v.9h-.9zM330.3 657.7h.9v.9h-.9zM325.4 643.5h.9v.9h-.9zM331.0 653.5h.9v.9h-.9zM328.0 648.9h.9v.9h-.9zM327.9 655.3h.9v.9h-.9zM325.9 652.4h.9v.9h-.9zM325.8 658.3h.9v.9h-.9zM324.0 645.0h.9v.9h-.9zM329.7 649.9h.9v.9h-.9zM328.9 648.2h.9v.9h-.9zM324.1 656.2h.9v.9h-.9zM328.1 649.8h.9v.9h-.9zM329.6 657.1h.9v.9h-.9zM328.8 653.0h.9v.9h-.9zM329.8 659.0h.9v.9h-.9zM322.5 662.8h.9v.9h-.9zM327.8 658.2h.9v.9h-.9zM330.3 662.6h.9v.9h-.9zM327.6 648.0h.9v.9h-.9zM331.8 658.2h.9v.9h-.9zM328.2 656.2h.9v.9h-.9zM328.6 656.4h.9v.9h-.9zM326.9 656.1h.9v.9h-.9zM328.9 646.1h.9v.9h-.9zM329.8 657.9h.9v.9h-.9zM319.7 652.8h.9v.9h-.9zM335.8 652.8h.9v.9h-.9zM326.9 657.1h.9v.9h-.9zM329.0 643.1h.9v.9h-.9zM329.9 658.3h.9v.9h-.9zM328.7 655.6h.9v.9h-.9zM327.8 649.6h.9v.9h-.9zM325.2 649.9h.9v.9h-.9zM328.3 657.5h.9v.9h-.9zM326.9 641.2h.9v.9h-.9zM328.4 662.2h.9v.9h-.9zM328.9 640.0h.9v.9h-.9zM330.6 660.6h.9v.9h-.9zM323.2 652.9h.9v.9h-.9zM330.6 658.5h.9v.9h-.9zM328.4 661.8h.9v.9h-.9zM334.0 653.6h.9v.9h-.9zM330.1 654.8h.9v.9h-.9zM326.9 660.5h.9v.9h-.9zM326.7 648.3h.9v.9h-.9zM327.2 658.8h.9v.9h-.9zM326.1 648.0h.9v.9h-.9zM326.1 652.5h.9v.9h-.9zM324.2 656.4h.9v.9h-.9zM327.8 654.5h.9v.9h-.9zM326.7 647.6h.9v.9h-.9zM326.9 651.8h.9v.9h-.9zM325.8 649.7h.9v.9h-.9zM329.7 653.2h.9v.9h-.9zM335.2 649.0h.9v.9h-.9zM328.4 642.7h.9v.9h-.9zM333.1 648.9h.9v.9h-.9zM326.2 667.5h.9v.9h-.9zM327.9 651.8h.9v.9h-.9zM329.6 651.8h.9v.9h-.9zM330.9 654.5h.9v.9h-.9zM322.6 658.6h.9v.9h-.9zM326.8 659.8h.9v.9h-.9zM327.9 651.2h.9v.9h-.9zM326.9 653.7h.9v.9h-.9zM327.4 662.8h.9v.9h-.9zM328.7 661.1h.9v.9h-.9zM330.2 646.5h.9v.9h-.9zM326.3 652.3h.9v.9h-.9zM328.5 644.6h.9v.9h-.9zM327.2 641.1h.9v.9h-.9zM323.2 669.3h.9v.9h-.9zM327.3 651.3h.9v.9h-.9zM327.6 651.2h.9v.9h-.9zM328.5 655.6h.9v.9h-.9zM329.7 651.3h.9v.9h-.9zM337.6 654.9h.9v.9h-.9zM329.2 662.5h.9v.9h-.9zM326.9 658.5h.9v.9h-.9zM330.1 664.0h.9v.9h-.9zM329.9 642.2h.9v.9h-.9zM331.8 630.1h.9v.9h-.9zM323.6 634.3h.9v.9h-.9zM330.7 635.6h.9v.9h-.9zM330.1 641.9h.9v.9h-.9zM328.0 637.8h.9v.9h-.9zM328.6 632.2h.9v.9h-.9zM327.8 642.1h.9v.9h-.9zM323.5 641.4h.9v.9h-.9zM327.2 639.7h.9v.9h-.9zM328.6 637.7h.9v.9h-.9zM325.7 640.6h.9v.9h-.9zM327.1 633.6h.9v.9h-.9zM326.0 634.0h.9v.9h-.9zM329.2 641.7h.9v.9h-.9zM333.4 644.2h.9v.9h-.9zM329.0 641.0h.9v.9h-.9zM324.1 634.3h.9v.9h-.9zM330.5 637.0h.9v.9h-.9zM330.5 637.9h.9v.9h-.9zM327.6 644.1h.9v.9h-.9zM327.9 630.5h.9v.9h-.9zM324.9 640.2h.9v.9h-.9zM324.9 637.3h.9v.9h-.9zM329.8 630.3h.9v.9h-.9zM330.7 643.6h.9v.9h-.9zM327.7 639.0h.9v.9h-.9zM327.0 632.9h.9v.9h-.9z" fill="#000" fill-opacity="0.28"/>
<path d="M329.4 651.1h.9v.9h-.9zM328.1 653.6h.9v.9h-.9zM332.7 655.4h.9v.9h-.9zM330.6 657.6h.9v.9h-.9zM327.2 656.0h.9v.9h-.9zM329.7 656.1h.9v.9h-.9zM331.4 651.9h.9v.9h-.9zM328.2 645.4h.9v.9h-.9zM326.9 653.7h.9v.9h-.9zM329.7 652.6h.9v.9h-.9zM330.0 654.1h.9v.9h-.9zM329.1 653.1h.9v.9h-.9zM328.7 648.5h.9v.9h-.9zM325.0 653.6h.9v.9h-.9zM325.9 647.6h.9v.9h-.9zM326.4 653.0h.9v.9h-.9zM332.3 653.0h.9v.9h-.9zM328.9 659.0h.9v.9h-.9zM325.4 653.9h.9v.9h-.9zM326.1 652.3h.9v.9h-.9zM327.9 653.4h.9v.9h-.9zM328.3 653.1h.9v.9h-.9zM327.0 652.1h.9v.9h-.9zM327.8 648.4h.9v.9h-.9zM328.6 654.4h.9v.9h-.9zM333.9 651.3h.9v.9h-.9zM328.9 651.2h.9v.9h-.9zM330.0 653.8h.9v.9h-.9zM326.8 657.1h.9v.9h-.9zM327.1 647.2h.9v.9h-.9zM328.8 648.9h.9v.9h-.9zM326.7 651.9h.9v.9h-.9zM328.4 649.2h.9v.9h-.9zM327.8 655.4h.9v.9h-.9zM328.3 654.5h.9v.9h-.9zM327.3 650.3h.9v.9h-.9zM329.7 652.9h.9v.9h-.9zM328.8 646.7h.9v.9h-.9zM330.0 648.3h.9v.9h-.9zM326.7 652.8h.9v.9h-.9zM330.5 654.7h.9v.9h-.9zM326.9 649.6h.9v.9h-.9zM331.1 654.9h.9v.9h-.9zM326.3 652.0h.9v.9h-.9zM330.7 645.5h.9v.9h-.9zM325.8 655.1h.9v.9h-.9zM325.2 650.9h.9v.9h-.9zM328.0 649.2h.9v.9h-.9zM331.0 654.2h.9v.9h-.9zM331.6 656.6h.9v.9h-.9zM330.5 657.6h.9v.9h-.9zM330.3 650.7h.9v.9h-.9zM330.6 654.4h.9v.9h-.9zM330.7 653.5h.9v.9h-.9zM329.7 648.1h.9v.9h-.9zM327.1 656.0h.9v.9h-.9zM329.9 656.7h.9v.9h-.9zM327.6 646.6h.9v.9h-.9zM332.0 653.9h.9v.9h-.9zM327.2 648.4h.9v.9h-.9zM327.7 649.3h.9v.9h-.9zM329.2 647.8h.9v.9h-.9zM327.1 653.8h.9v.9h-.9zM325.8 656.6h.9v.9h-.9zM327.8 649.0h.9v.9h-.9zM329.7 649.8h.9v.9h-.9zM327.5 651.8h.9v.9h-.9zM332.1 649.3h.9v.9h-.9zM327.9 648.8h.9v.9h-.9zM328.4 654.6h.9v.9h-.9zM329.3 646.7h.9v.9h-.9zM327.3 653.8h.9v.9h-.9zM328.9 646.5h.9v.9h-.9zM330.0 650.2h.9v.9h-.9zM329.6 649.1h.9v.9h-.9zM328.3 651.5h.9v.9h-.9zM325.0 651.8h.9v.9h-.9zM326.6 643.0h.9v.9h-.9zM327.1 650.2h.9v.9h-.9zM327.8 645.4h.9v.9h-.9zM327.1 647.5h.9v.9h-.9zM328.2 652.3h.9v.9h-.9zM328.4 655.6h.9v.9h-.9zM328.5 649.6h.9v.9h-.9zM328.7 652.5h.9v.9h-.9zM329.5 652.3h.9v.9h-.9zM326.7 659.1h.9v.9h-.9zM329.6 651.4h.9v.9h-.9zM326.9 649.9h.9v.9h-.9zM327.3 660.7h.9v.9h-.9zM330.8 652.7h.9v.9h-.9zM328.3 646.1h.9v.9h-.9zM324.7 649.1h.9v.9h-.9zM329.2 647.6h.9v.9h-.9zM331.7 654.7h.9v.9h-.9zM328.7 654.1h.9v.9h-.9zM327.5 656.3h.9v.9h-.9zM327.3 655.7h.9v.9h-.9zM327.7 654.8h.9v.9h-.9zM327.6 647.1h.9v.9h-.9zM331.7 654.9h.9v.9h-.9zM328.9 655.1h.9v.9h-.9zM328.7 645.3h.9v.9h-.9zM331.6 650.2h.9v.9h-.9zM324.5 650.2h.9v.9h-.9zM329.1 645.6h.9v.9h-.9zM332.4 651.2h.9v.9h-.9zM326.3 653.0h.9v.9h-.9zM328.2 645.4h.9v.9h-.9zM328.0 648.9h.9v.9h-.9zM329.0 653.0h.9v.9h-.9zM331.1 647.2h.9v.9h-.9zM329.9 652.9h.9v.9h-.9zM326.7 649.5h.9v.9h-.9zM331.5 654.6h.9v.9h-.9zM327.2 649.9h.9v.9h-.9zM326.5 652.8h.9v.9h-.9zM325.8 646.5h.9v.9h-.9zM326.8 650.8h.9v.9h-.9zM326.3 658.0h.9v.9h-.9zM328.1 649.0h.9v.9h-.9zM330.2 649.8h.9v.9h-.9zM331.9 652.2h.9v.9h-.9zM329.9 653.9h.9v.9h-.9zM332.6 653.0h.9v.9h-.9zM328.4 654.7h.9v.9h-.9zM324.3 650.1h.9v.9h-.9zM326.3 646.3h.9v.9h-.9zM326.9 648.4h.9v.9h-.9zM326.0 653.4h.9v.9h-.9zM329.1 652.6h.9v.9h-.9zM329.3 652.3h.9v.9h-.9zM327.7 656.5h.9v.9h-.9zM328.2 650.6h.9v.9h-.9zM328.8 647.6h.9v.9h-.9zM329.8 653.5h.9v.9h-.9zM330.9 650.2h.9v.9h-.9zM329.6 656.6h.9v.9h-.9zM329.8 654.0h.9v.9h-.9zM325.7 662.1h.9v.9h-.9zM323.5 651.4h.9v.9h-.9zM325.3 652.6h.9v.9h-.9zM331.7 652.8h.9v.9h-.9zM326.9 650.2h.9v.9h-.9zM330.0 645.6h.9v.9h-.9zM328.4 652.9h.9v.9h-.9zM326.1 646.3h.9v.9h-.9zM329.9 655.3h.9v.9h-.9zM328.8 652.7h.9v.9h-.9zM324.4 652.1h.9v.9h-.9zM329.8 647.7h.9v.9h-.9zM327.9 649.9h.9v.9h-.9zM327.2 652.8h.9v.9h-.9zM328.4 654.3h.9v.9h-.9zM327.8 652.6h.9v.9h-.9zM329.9 656.4h.9v.9h-.9zM327.2 650.7h.9v.9h-.9zM328.7 657.3h.9v.9h-.9zM331.0 654.4h.9v.9h-.9zM329.4 644.9h.9v.9h-.9zM329.7 657.7h.9v.9h-.9zM327.0 651.7h.9v.9h-.9zM328.8 649.9h.9v.9h-.9zM329.8 658.8h.9v.9h-.9zM331.0 651.4h.9v.9h-.9zM329.7 654.9h.9v.9h-.9zM327.2 650.9h.9v.9h-.9zM329.1 649.1h.9v.9h-.9zM326.2 652.0h.9v.9h-.9zM331.7 652.4h.9v.9h-.9zM330.7 646.6h.9v.9h-.9zM326.5 650.9h.9v.9h-.9zM327.7 654.3h.9v.9h-.9zM328.7 656.7h.9v.9h-.9zM325.9 655.4h.9v.9h-.9zM329.5 652.2h.9v.9h-.9zM329.3 649.8h.9v.9h-.9zM326.8 653.5h.9v.9h-.9zM326.9 649.4h.9v.9h-.9zM329.7 656.1h.9v.9h-.9zM329.2 654.4h.9v.9h-.9zM325.3 655.7h.9v.9h-.9zM328.5 647.5h.9v.9h-.9zM326.8 652.8h.9v.9h-.9zM326.2 651.8h.9v.9h-.9zM326.1 652.1h.9v.9h-.9zM328.4 655.6h.9v.9h-.9zM327.7 653.2h.9v.9h-.9zM330.5 655.8h.9v.9h-.9zM326.8 657.1h.9v.9h-.9zM329.6 647.9h.9v.9h-.9zM325.0 653.8h.9v.9h-.9zM327.7 652.0h.9v.9h-.9zM328.6 648.3h.9v.9h-.9zM325.4 652.0h.9v.9h-.9zM326.3 644.3h.9v.9h-.9zM327.5 650.9h.9v.9h-.9zM326.5 647.4h.9v.9h-.9zM330.9 652.4h.9v.9h-.9zM326.4 648.4h.9v.9h-.9zM326.9 654.2h.9v.9h-.9zM327.1 651.2h.9v.9h-.9zM328.5 650.3h.9v.9h-.9zM325.8 650.6h.9v.9h-.9zM328.0 654.2h.9v.9h-.9zM332.1 646.8h.9v.9h-.9zM325.8 647.9h.9v.9h-.9zM326.9 653.3h.9v.9h-.9zM327.9 652.2h.9v.9h-.9zM325.2 650.4h.9v.9h-.9zM326.3 659.9h.9v.9h-.9zM329.2 654.1h.9v.9h-.9zM326.5 649.3h.9v.9h-.9zM328.4 651.8h.9v.9h-.9zM328.4 651.0h.9v.9h-.9zM329.1 647.6h.9v.9h-.9zM331.9 652.9h.9v.9h-.9zM327.7 656.4h.9v.9h-.9zM329.8 651.0h.9v.9h-.9zM329.3 653.4h.9v.9h-.9zM328.1 650.3h.9v.9h-.9zM327.7 654.6h.9v.9h-.9zM327.4 653.0h.9v.9h-.9zM332.0 650.9h.9v.9h-.9zM329.0 653.6h.9v.9h-.9zM323.7 649.3h.9v.9h-.9zM328.3 650.3h.9v.9h-.9zM328.5 651.4h.9v.9h-.9zM325.4 652.4h.9v.9h-.9zM326.0 654.7h.9v.9h-.9zM327.9 650.1h.9v.9h-.9zM329.2 654.5h.9v.9h-.9zM329.1 653.4h.9v.9h-.9zM329.7 653.1h.9v.9h-.9zM327.8 650.2h.9v.9h-.9zM327.4 652.7h.9v.9h-.9zM328.7 655.5h.9v.9h-.9zM329.3 651.4h.9v.9h-.9zM330.7 657.2h.9v.9h-.9zM327.4 655.6h.9v.9h-.9zM326.3 653.7h.9v.9h-.9zM330.8 653.1h.9v.9h-.9zM329.1 651.0h.9v.9h-.9zM330.6 648.3h.9v.9h-.9zM326.4 648.6h.9v.9h-.9zM325.9 654.0h.9v.9h-.9zM330.7 648.8h.9v.9h-.9zM324.7 650.1h.9v.9h-.9zM330.1 652.6h.9v.9h-.9zM330.7 653.0h.9v.9h-.9zM327.1 648.7h.9v.9h-.9zM328.5 653.2h.9v.9h-.9zM328.7 648.1h.9v.9h-.9zM325.5 652.4h.9v.9h-.9zM329.6 656.6h.9v.9h-.9zM324.2 652.3h.9v.9h-.9zM327.0 644.2h.9v.9h-.9zM329.1 649.5h.9v.9h-.9zM327.9 650.1h.9v.9h-.9zM326.3 655.9h.9v.9h-.9zM327.2 655.9h.9v.9h-.9zM323.9 647.5h.9v.9h-.9zM330.2 658.8h.9v.9h-.9zM330.2 662.9h.9v.9h-.9zM328.8 657.5h.9v.9h-.9zM328.1 652.1h.9v.9h-.9zM326.8 650.8h.9v.9h-.9zM326.8 648.7h.9v.9h-.9zM328.7 649.2h.9v.9h-.9zM326.2 650.3h.9v.9h-.9zM331.5 650.2h.9v.9h-.9zM330.2 652.0h.9v.9h-.9zM328.5 651.3h.9v.9h-.9zM327.5 653.0h.9v.9h-.9zM326.9 653.8h.9v.9h-.9zM325.5 652.0h.9v.9h-.9zM330.5 652.4h.9v.9h-.9zM329.3 654.9h.9v.9h-.9zM329.9 648.9h.9v.9h-.9zM324.9 655.2h.9v.9h-.9zM328.5 650.9h.9v.9h-.9zM326.6 653.4h.9v.9h-.9zM331.4 653.8h.9v.9h-.9zM328.0 653.6h.9v.9h-.9zM328.0 658.6h.9v.9h-.9zM328.8 656.4h.9v.9h-.9zM326.1 652.3h.9v.9h-.9zM328.5 646.8h.9v.9h-.9zM327.4 650.0h.9v.9h-.9zM327.2 649.8h.9v.9h-.9zM327.1 647.2h.9v.9h-.9zM328.7 652.0h.9v.9h-.9zM329.8 646.7h.9v.9h-.9zM327.5 657.0h.9v.9h-.9zM330.1 647.9h.9v.9h-.9zM329.7 651.0h.9v.9h-.9zM330.3 646.6h.9v.9h-.9zM328.1 656.6h.9v.9h-.9zM327.8 652.6h.9v.9h-.9zM330.9 655.4h.9v.9h-.9zM329.1 650.6h.9v.9h-.9zM325.3 647.9h.9v.9h-.9zM329.5 653.7h.9v.9h-.9zM329.5 648.1h.9v.9h-.9zM330.6 650.9h.9v.9h-.9zM328.3 647.1h.9v.9h-.9zM328.9 649.9h.9v.9h-.9zM330.2 659.0h.9v.9h-.9zM328.8 659.3h.9v.9h-.9zM328.4 655.1h.9v.9h-.9zM329.2 653.1h.9v.9h-.9zM329.7 652.2h.9v.9h-.9zM328.8 652.2h.9v.9h-.9zM326.4 655.7h.9v.9h-.9zM329.4 651.8h.9v.9h-.9zM326.5 654.3h.9v.9h-.9zM328.0 653.5h.9v.9h-.9zM326.3 655.8h.9v.9h-.9zM326.1 652.8h.9v.9h-.9zM328.7 654.9h.9v.9h-.9zM327.3 652.1h.9v.9h-.9zM326.7 659.2h.9v.9h-.9zM331.4 648.4h.9v.9h-.9zM324.2 653.9h.9v.9h-.9zM327.5 651.7h.9v.9h-.9zM323.5 652.5h.9v.9h-.9zM327.4 655.2h.9v.9h-.9zM329.6 654.3h.9v.9h-.9zM331.7 658.5h.9v.9h-.9zM326.8 652.3h.9v.9h-.9zM327.1 656.4h.9v.9h-.9zM329.5 657.9h.9v.9h-.9zM327.4 655.9h.9v.9h-.9zM330.1 651.2h.9v.9h-.9zM326.1 656.9h.9v.9h-.9zM330.7 650.2h.9v.9h-.9zM324.2 653.3h.9v.9h-.9zM329.6 660.9h.9v.9h-.9zM327.6 650.4h.9v.9h-.9zM328.6 654.5h.9v.9h-.9zM327.5 657.8h.9v.9h-.9zM327.6 647.7h.9v.9h-.9zM327.1 653.5h.9v.9h-.9zM330.1 654.2h.9v.9h-.9zM326.7 647.2h.9v.9h-.9zM328.3 654.0h.9v.9h-.9zM328.0 653.9h.9v.9h-.9zM329.0 656.7h.9v.9h-.9zM327.5 649.8h.9v.9h-.9zM328.9 652.1h.9v.9h-.9zM327.5 659.8h.9v.9h-.9zM327.5 648.2h.9v.9h-.9zM326.6 656.9h.9v.9h-.9zM327.1 651.8h.9v.9h-.9zM323.5 647.5h.9v.9h-.9zM329.2 650.9h.9v.9h-.9zM328.4 654.1h.9v.9h-.9zM325.7 649.3h.9v.9h-.9zM330.7 650.8h.9v.9h-.9zM324.1 659.8h.9v.9h-.9zM330.5 653.1h.9v.9h-.9zM327.6 648.7h.9v.9h-.9zM330.0 645.6h.9v.9h-.9zM326.4 652.0h.9v.9h-.9zM328.5 651.7h.9v.9h-.9zM328.8 652.5h.9v.9h-.9zM326.3 654.2h.9v.9h-.9zM326.9 654.6h.9v.9h-.9zM327.6 653.7h.9v.9h-.9zM329.7 650.6h.9v.9h-.9zM327.2 651.7h.9v.9h-.9zM328.7 653.7h.9v.9h-.9zM328.5 650.5h.9v.9h-.9zM327.4 656.6h.9v.9h-.9zM329.9 654.7h.9v.9h-.9zM325.4 653.7h.9v.9h-.9zM328.0 649.7h.9v.9h-.9zM330.7 658.6h.9v.9h-.9zM331.9 652.6h.9v.9h-.9zM326.3 657.1h.9v.9h-.9z" fill="#000" fill-opacity="0.68"/>
<rect x="283.4" y="619.2" width="64.40000000000003" height="64.19999999999993" fill="none" stroke="#111" stroke-width="1.3"/>
<path d="M283.4 645.1H347.8" stroke="#222" stroke-width="1.2" fill="none" />
<text x="345.90000000000003" y="627.5" font-size="8.1" font-weight="normal" text-anchor="end" >3.9</text>
<path d="M275.6 624.2h3.2v2.2h-3.2z M278.8 621.6h1.1v1.8h-1.1z M275.6 638.2h3.2v2.2h-3.2z M278.8 635.6h1.1v1.8h-1.1z M275.6 652.2h3.2v2.2h-3.2z M278.8 649.6h1.1v1.8h-1.1z M275.6 668.2h3.2v2.2h-3.2z M278.8 665.6h1.1v1.8h-1.1z M277.8 675.4h1.3v1.3h-1.3z M288.4 688.4h1.3v1.3h-1.3z M295.5 688.2h3.2v2.2h-3.2z M298.7 685.6h1.1v1.8h-1.1z M311.0 688.2h3.2v2.2h-3.2z M314.2 685.6h1.1v1.8h-1.1z M325.8 688.2h3.2v2.2h-3.2z M329.0 685.6h1.1v1.8h-1.1z M341.5 688.2h3.2v2.2h-3.2z M344.7 685.6h1.1v1.8h-1.1z " fill="#111"/>
<path d="M282.1 621.2h1.3M282.1 623.8h1.3M282.1 626.3h1.3M282.1 628.9h1.3M282.1 631.4h1.3M282.1 634.0h1.3M282.1 636.5h1.3M282.1 639.1h1.3M282.1 641.6h1.3M282.1 644.1h1.3M282.1 646.7h1.3M282.1 649.2h1.3M282.1 651.8h1.3M282.1 654.4h1.3M282.1 656.9h1.3M282.1 659.5h1.3M282.1 662.0h1.3M282.1 664.5h1.3M282.1 667.1h1.3M282.1 669.6h1.3M282.1 672.2h1.3M282.1 674.8h1.3M282.1 677.3h1.3M282.1 679.9h1.3M285.4 683.4v1.3M287.8 683.4v1.3M290.1 683.4v1.3M292.5 683.4v1.3M294.8 683.4v1.3M297.2 683.4v1.3M299.6 683.4v1.3M301.9 683.4v1.3M304.3 683.4v1.3M306.7 683.4v1.3M309.0 683.4v1.3M311.4 683.4v1.3M313.7 683.4v1.3M316.1 683.4v1.3M318.5 683.4v1.3M320.8 683.4v1.3M323.2 683.4v1.3M325.5 683.4v1.3M327.9 683.4v1.3M330.3 683.4v1.3M332.6 683.4v1.3M335.0 683.4v1.3M337.4 683.4v1.3M339.7 683.4v1.3M342.1 683.4v1.3M344.4 683.4v1.3" stroke="#222" stroke-width="0.9" fill="none" />
<path d="M13.5 539.3V652.6" stroke="#000" stroke-width="1.1" fill="none" />
<path d="M11.1 539.8L13.5 534.8L15.9 539.8Z" fill="#000"/>
<text transform="translate(15.3,678.0) rotate(-90)" font-size="8">IFN-&#947;</text>
<text x="23.3" y="692.8" font-size="8.2" font-weight="normal" text-anchor="start" >CD8</text>
<path d="M39.2 690.0H88.5" stroke="#000" stroke-width="1.1" fill="none" />
<path d="M87.5 687.4L92.5 690.0L87.5 692.6Z" fill="#000"/>
<text x="97.8" y="578.7" font-size="8.2" font-weight="normal" text-anchor="start" >3 &#181;g</text>
<text x="97.8" y="588.9000000000001" font-size="8.2" font-weight="normal" text-anchor="start" >pp65</text>
<text x="97.8" y="660.0" font-size="8.2" font-weight="normal" text-anchor="start" >3 &#181;g</text>
<text x="97.8" y="669.6" font-size="7.9" font-weight="normal" text-anchor="start" >pp65-IC</text>
<path d="M269.1 543.3V658.5" stroke="#000" stroke-width="1.1" fill="none" />
<path d="M266.70000000000005 543.8L269.1 538.8L271.5 543.8Z" fill="#000"/>
<text transform="translate(270.90000000000003,681.5) rotate(-90)" font-size="8">IFN-&#947;</text>
<text x="279.2" y="698.2" font-size="8.2" font-weight="normal" text-anchor="start" >CD8</text>
<path d="M294.3 695.9H342.5" stroke="#000" stroke-width="1.1" fill="none" />
<path d="M341.5 693.3L346.5 695.9L341.5 698.5Z" fill="#000"/>
<text x="352.0" y="579.3" font-size="8.2" font-weight="normal" text-anchor="start" >3 &#181;g</text>
<text x="352.0" y="589.5" font-size="8.2" font-weight="normal" text-anchor="start" >pp65</text>
<text x="352.0" y="660.5" font-size="8.2" font-weight="normal" text-anchor="start" >3 &#181;g</text>
<text x="352.0" y="670.1" font-size="7.9" font-weight="normal" text-anchor="start" >pp65-IC</text>
<rect x="170.70" y="641.63" width="12.00" height="33.97" fill="#fff" stroke="#000" stroke-width="1.2"/>
<rect x="188.90" y="590.98" width="11.60" height="84.62" fill="#000" stroke="#000" stroke-width="1.2"/>
<path d="M194.7 590.6833333333334V580.4933333333333M191.39999999999998 580.4933333333333H198.0" stroke="#000" stroke-width="1.2" fill="none" />
<rect x="206.60" y="637.86" width="11.90" height="37.74" fill="#aaaaaa" stroke="#000" stroke-width="1.2"/>
<path d="M212.55 637.5573333333334V634.84M209.25 634.84H215.85000000000002" stroke="#000" stroke-width="1.2" fill="none" />
<rect x="225.00" y="642.61" width="11.90" height="32.99" fill="#3a3a3a" stroke="#000" stroke-width="1.2"/>
<path d="M230.95 642.3126666666667V631.1036666666666M227.54999999999998 631.1036666666666H234.35" stroke="#000" stroke-width="1.2" fill="none" />
<path d="M167.6 573.7V675.6H239.4" stroke="#000" stroke-width="1.2" fill="none" />
<text x="164.0" y="575.8000000000001" font-size="6" font-weight="bold" text-anchor="end" >300</text>
<text x="164.0" y="609.7666666666668" font-size="6" font-weight="bold" text-anchor="end" >200</text>
<text x="164.0" y="643.7333333333333" font-size="6" font-weight="bold" text-anchor="end" >100</text>
<text x="164.0" y="677.7" font-size="6" font-weight="bold" text-anchor="end" >0</text>
<path d="M164.6 573.7H167.6M164.6 607.7H167.6M164.6 641.6H167.6M164.6 675.6H167.6M176.7 675.6v2.5M194.7 675.6v2.5M212.6 675.6v2.5M230.9 675.6v2.5" stroke="#000" stroke-width="1.2" fill="none" />
<text transform="translate(141.0,622.0) rotate(-90)" font-size="8" text-anchor="middle">% increase in IFN-&#947; production</text>
<text transform="translate(180.0,683.4) rotate(-45)" font-size="7.0" text-anchor="end">pp65</text>
<text transform="translate(197.8,683.4) rotate(-45)" font-size="7.0" text-anchor="end">pp65-IC</text>
<text transform="translate(215.8,683.4) rotate(-45)" font-size="7.0" text-anchor="end">pp65-IC + FcR block</text>
<text transform="translate(234.2,683.4) rotate(-45)" font-size="7.0" text-anchor="end">pp65-IC + FLIPr</text>
<rect x="425.70" y="646.33" width="12.00" height="34.17" fill="#fff" stroke="#000" stroke-width="1.2"/>
<rect x="443.90" y="609.73" width="11.90" height="70.77" fill="#000" stroke="#000" stroke-width="1.2"/>
<path d="M449.85 609.4333333333334V590.6416666666667M446.65000000000003 590.6416666666667H453.05" stroke="#000" stroke-width="1.2" fill="none" />
<rect x="461.60" y="648.00" width="11.50" height="32.50" fill="#aaaaaa" stroke="#000" stroke-width="1.2"/>
<path d="M467.35 647.7V647.0166666666667M464.35 647.0166666666667H470.35" stroke="#000" stroke-width="1.2" fill="none" />
<rect x="479.60" y="638.77" width="11.90" height="41.73" fill="#3a3a3a" stroke="#000" stroke-width="1.2"/>
<path d="M485.54999999999995 638.475V621.7333333333333M482.15 621.7333333333333H488.94999999999993" stroke="#000" stroke-width="1.2" fill="none" />
<path d="M422.7 578.0V680.5H494.2" stroke="#000" stroke-width="1.2" fill="none" />
<text x="419.09999999999997" y="580.1" font-size="6" font-weight="bold" text-anchor="end" >300</text>
<text x="419.09999999999997" y="614.2666666666667" font-size="6" font-weight="bold" text-anchor="end" >200</text>
<text x="419.09999999999997" y="648.4333333333334" font-size="6" font-weight="bold" text-anchor="end" >100</text>
<text x="419.09999999999997" y="682.6" font-size="6" font-weight="bold" text-anchor="end" >0</text>
<path d="M419.7 578.0H422.7M419.7 612.2H422.7M419.7 646.3H422.7M419.7 680.5H422.7M431.7 680.5v2.5M449.9 680.5v2.5M467.4 680.5v2.5M485.5 680.5v2.5" stroke="#000" stroke-width="1.2" fill="none" />
<text transform="translate(394.8,628.0) rotate(-90)" font-size="8.25" text-anchor="middle">% increase in IFN-&#947; production</text>
<text transform="translate(435.6,687.6) rotate(-45)" font-size="7.1" text-anchor="end">pp65</text>
<text transform="translate(452.6,687.6) rotate(-45)" font-size="7.1" text-anchor="end">pp65-IC</text>
<text transform="translate(472.2,687.6) rotate(-45)" font-size="7.1" text-anchor="end">pp65-IC + FcR block</text>
<text transform="translate(490.4,687.6) rotate(-45)" font-size="7.1" text-anchor="end">pp65-IC + FLIPr</text>
<path d="M178.2 564.0V569.6M178.2 566.6H231.1M231.1 564.0V569.6M194.5 563.8V568.8M194.5 570.4V575.8M194.5 573.0H212.9M212.9 570.4V575.8" stroke="#000" stroke-width="1.2" fill="none" />
<text x="186" y="566.4" font-size="7" font-weight="normal" text-anchor="middle" >*</text>
<text x="212.6" y="566.4" font-size="7" font-weight="normal" text-anchor="middle" >*</text>
<text x="203.8" y="572.8" font-size="7" font-weight="normal" text-anchor="middle" >*</text>
<text x="187.1" y="546.5" font-size="7" font-weight="normal" text-anchor="middle" >*</text>
<text x="192.6" y="547.7" font-size="7.4" font-weight="normal" text-anchor="start" >p &lt; 0.05</text>
</svg>
</body></html>
